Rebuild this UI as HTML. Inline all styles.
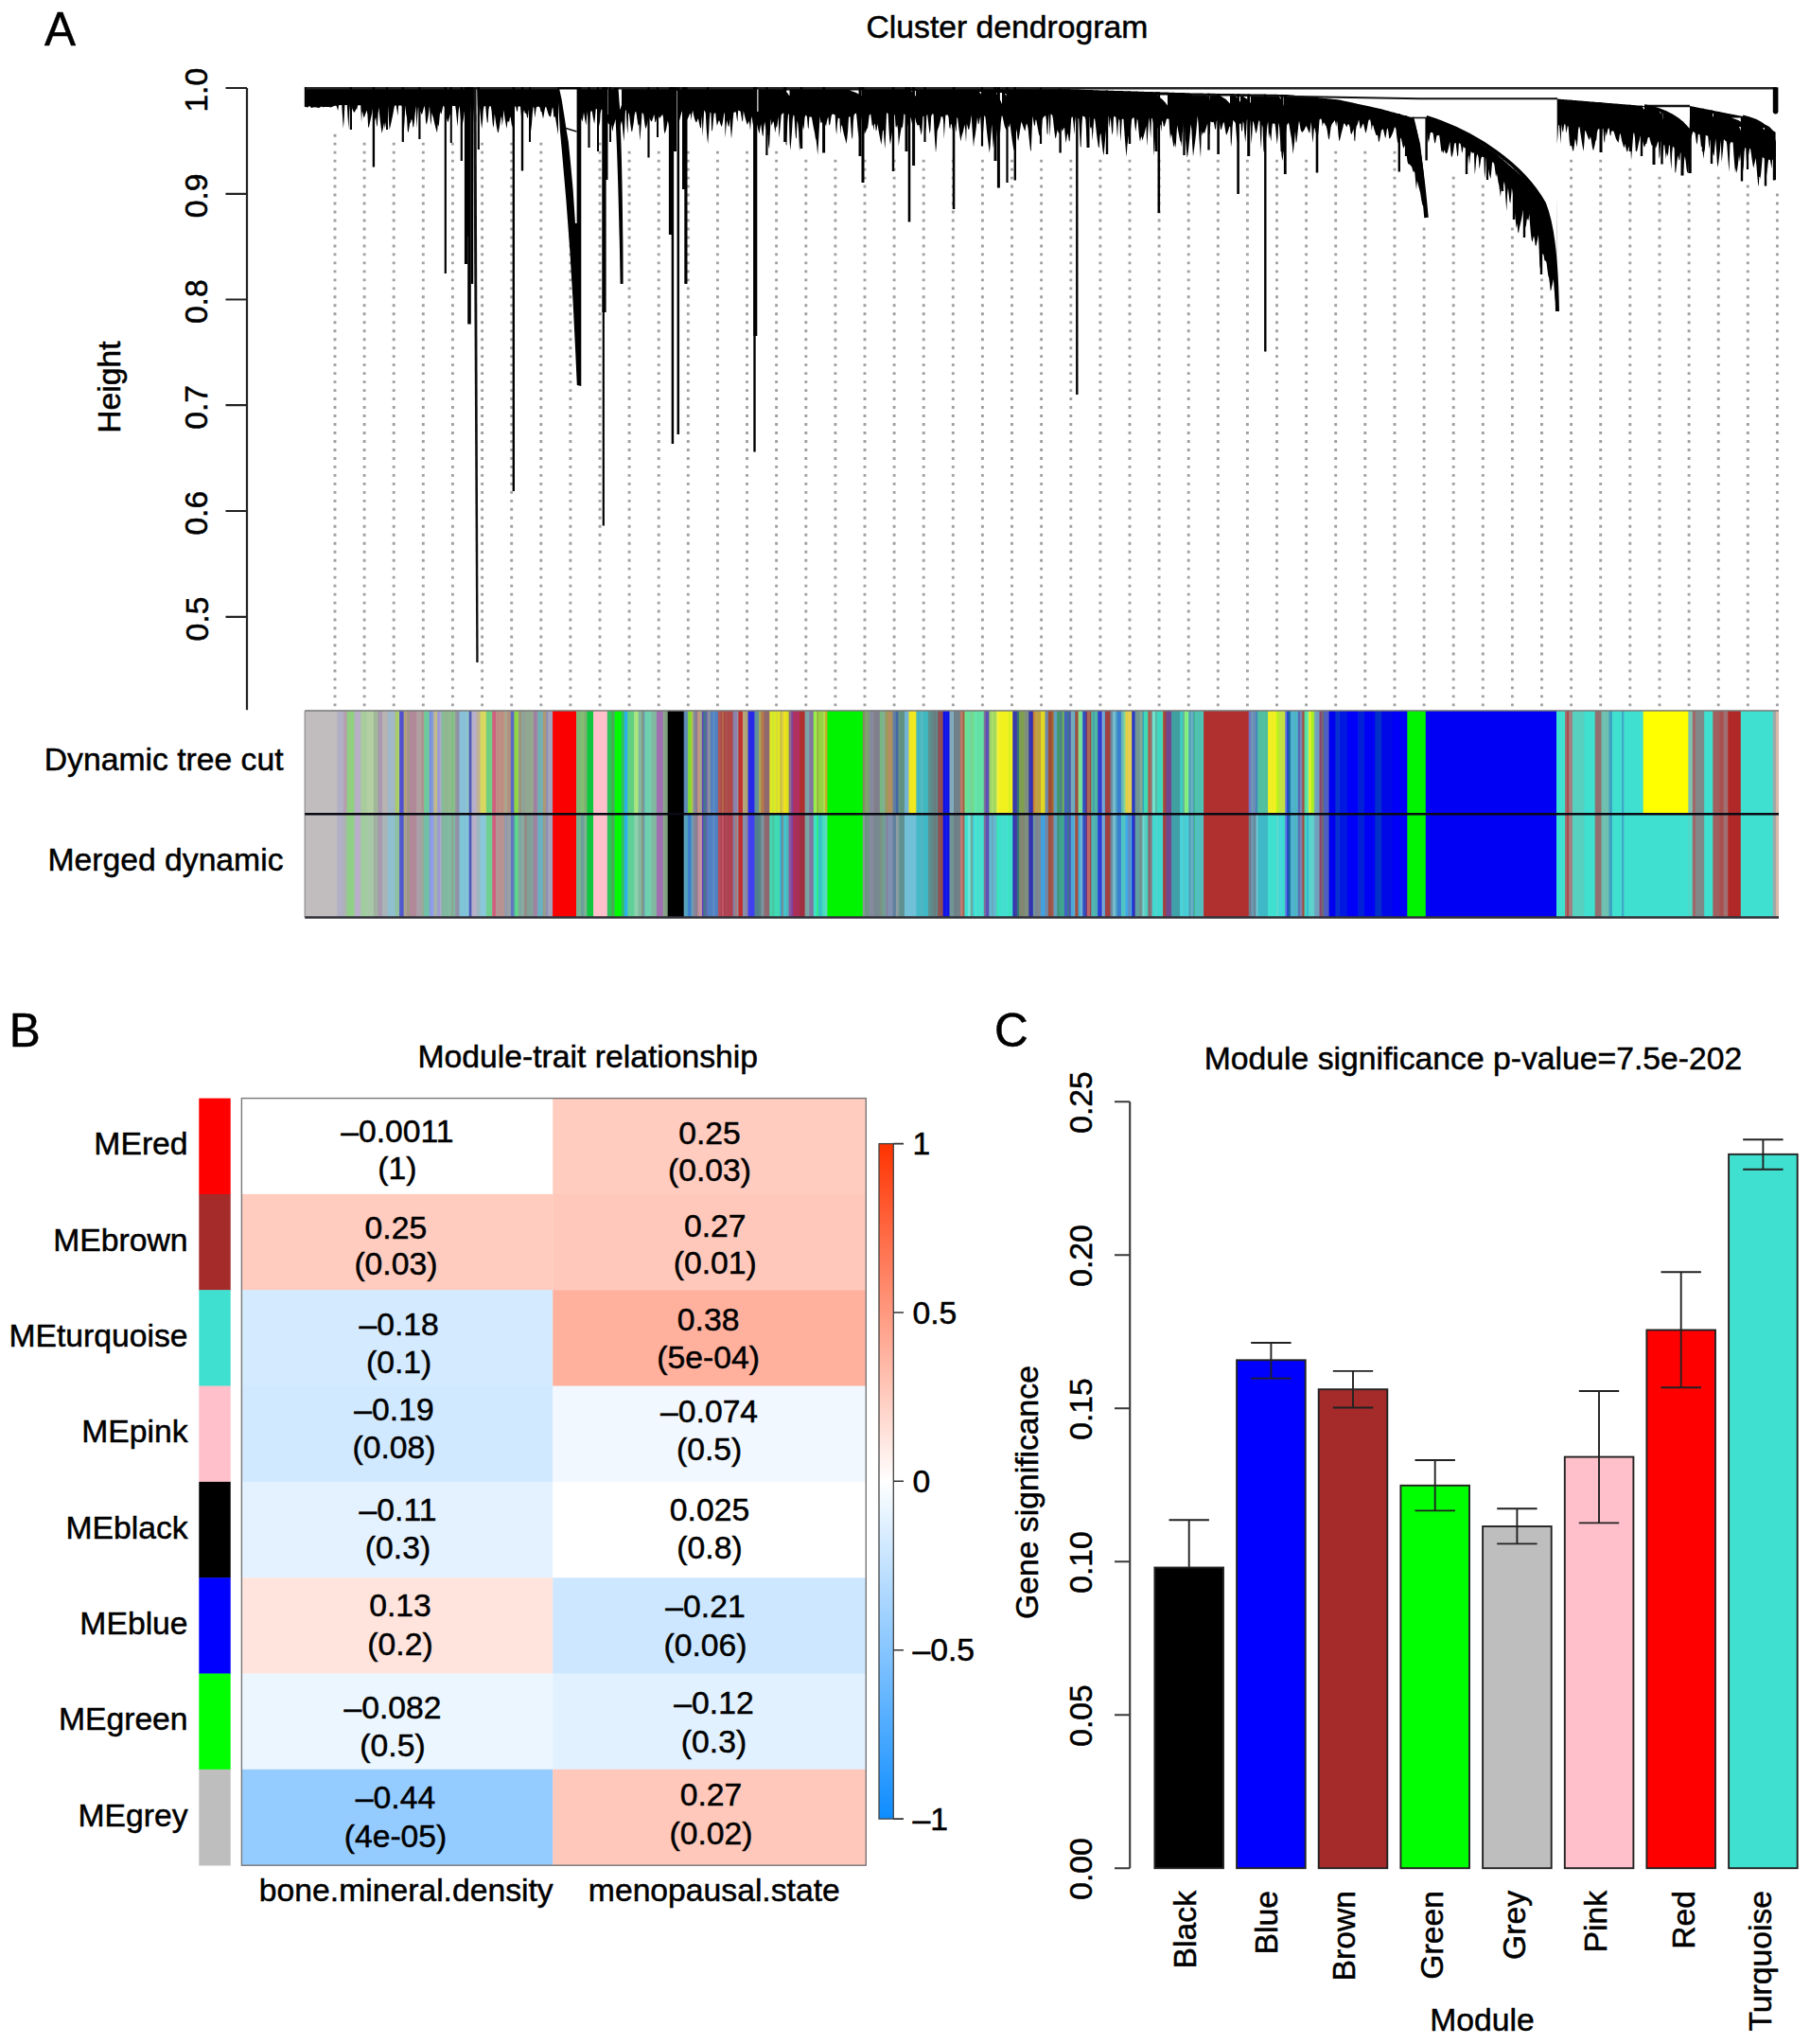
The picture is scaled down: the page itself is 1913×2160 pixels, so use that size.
<!DOCTYPE html>
<html lang="en"><head><meta charset="utf-8"><title>WGCNA figure</title>
<style>html,body{margin:0;padding:0;background:#fff;overflow:hidden}svg{display:block}text{font-family:'Liberation Sans', Arial, Helvetica, sans-serif;fill:#000;stroke:#000;stroke-width:0.5px}</style>
</head><body>
<svg width="1913" height="2160" viewBox="0 0 1913 2160">
<rect width="1913" height="2160" fill="#fff"/>
<g id="panelA">
<text x="47" y="48" font-size="49.5" text-anchor="start">A</text>
<text x="1064.4" y="40.4" font-size="33.7" text-anchor="middle">Cluster dendrogram</text>
<path d="M261 93.0V750.2" stroke="#222" stroke-width="2.2" fill="none"/>
<text x="219.5" y="95.2" font-size="33.7" text-anchor="middle" transform="rotate(-90 219.5 95.2)">1.0</text>
<text x="219.5" y="206.9" font-size="33.7" text-anchor="middle" transform="rotate(-90 219.5 206.9)">0.9</text>
<text x="219.5" y="318.7" font-size="33.7" text-anchor="middle" transform="rotate(-90 219.5 318.7)">0.8</text>
<text x="219.5" y="430.4" font-size="33.7" text-anchor="middle" transform="rotate(-90 219.5 430.4)">0.7</text>
<text x="219.5" y="542.2" font-size="33.7" text-anchor="middle" transform="rotate(-90 219.5 542.2)">0.6</text>
<text x="219.5" y="654" font-size="33.7" text-anchor="middle" transform="rotate(-90 219.5 654)">0.5</text>
<path d="M238.5 93H261M238.5 204.8H261M238.5 316.5H261M238.5 428.2H261M238.5 540H261M238.5 651.8H261" stroke="#222" stroke-width="2.2" fill="none"/>
<text x="127.3" y="409" font-size="33.7" text-anchor="middle" transform="rotate(-90 127.3 409)">Height</text>
<path d="M354 141.74V750M385.1 150.72V750M416.2 150.72V750M447.3 150.72V750M478.4 150.72V750M509.6 150.72V750M540.7 150.72V750M571.8 150.72V750M602.9 150.72V750M634 150.72V750M665.1 159.70V750M696.2 159.70V750M727.3 159.70V750M758.4 159.70V750M789.5 159.70V750M820.6 159.70V750M851.8 168.68V750M882.9 168.68V750M914 168.68V750M945.1 168.68V750M976.2 168.68V750M1007.3 168.68V750M1038.4 168.68V750M1069.5 168.68V750M1100.6 168.68V750M1131.8 168.68V750M1162.9 168.68V750M1194 168.68V750M1225.1 168.68V750M1256.2 168.68V750M1287.3 168.68V750M1318.4 168.68V750M1349.5 168.68V750M1380.6 168.68V750M1411.7 159.70V750M1442.8 159.70V750M1474 159.70V750M1505.1 240.52V750M1536.2 186.64V750M1567.3 195.62V750M1598.4 240.52V750M1629.5 294.40V750M1660.6 168.68V750M1691.7 168.68V750M1722.8 177.66V750M1754 186.64V750M1785.1 195.62V750M1816.2 186.64V750M1847.3 195.62V750M1878.4 204.60V750" stroke="#a0a0a0" stroke-width="2.9" stroke-dasharray="2.9 6.08" fill="none"/>
<path d="M322 92 322.8 92 323.6 92 324.4 92 325.2 92 326 92 326.8 92 327.6 92 328.4 92 329.2 92 330 92 330.8 92 331.6 92 332.4 92 333.2 92 334 92 334.8 92 335.6 92 336.4 92 337.2 92 338 92 338.8 92 339.6 92 340.4 92 341.2 92 342 92 342.8 92 343.6 92 344.4 92 345.2 92 346 92 346.8 92 347.6 92 348.4 92 349.2 92 350 92 350.8 92 351.6 92 352.4 92 353.2 92 354 92 354.8 92 355.6 92 356.4 92 357.2 92 358 92 358.8 92 359.6 92 360.4 92 361.2 92 362 92 362.8 92 363.6 92 364.4 92 365.2 92 366 92 366.8 92 367.6 92 368.4 92 369.2 92 370 92 370.8 92 371.6 92 372.4 92 373.2 92 374 92 374.8 92 375.6 92 376.4 92 377.2 92 378 92 378.8 92 379.6 92 380.4 92 381.2 92 382 92 382.8 92 383.6 92 384.4 92 385.2 92 386 92 386.8 92 387.6 92 388.4 92 389.2 92 390 92 390.8 92 391.6 92 392.4 92 393.2 92 394 92 394.8 92 395.6 92 396.4 92 397.2 92 398 92 398.8 92 399.6 92 400.4 92 401.2 92 402 92 402.8 92 403.6 92 404.4 92 405.2 92 406 92 406.8 92 407.6 92 408.4 92 409.2 92 410 92 410.8 92 411.6 92 412.4 92 413.2 92 414 92 414.8 92 415.6 92 416.4 92 417.2 92 418 92 418.8 92 419.6 92 420.4 92 421.2 92 422 92 422.8 92 423.6 92 424.4 92 425.2 92 426 92 426.8 92 427.6 92 428.4 92 429.2 92 430 92 430.8 92 431.6 92 432.4 92 433.2 92 434 92 434.8 92 435.6 92 436.4 92 437.2 92 438 92 438.8 92 439.6 92 440.4 92 441.2 92 442 92 442.8 92 443.6 92 444.4 92 445.2 92 446 92 446.8 92 447.6 92 448.4 92 449.2 92 450 92 450.8 92 451.6 92 452.4 92 453.2 92 454 92 454.8 92 455.6 92 456.4 92 457.2 92 458 92 458.8 92 459.6 92 460.4 92 461.2 92 462 92 462.8 92 463.6 92 464.4 92 465.2 92 466 92 466.8 92 467.6 92 468.4 92 469.2 92 470 92 470.8 92 471.6 92 472.4 92 473.2 92 474 92 474.8 92 475.6 92 476.4 92 477.2 92 478 92 478.8 92 479.6 92 480.4 92 481.2 92 482 92 482.8 92 483.6 92 484.4 92 485.2 92 486 92 486.8 92 487.6 92 488.4 92 489.2 92 490 92 490.8 92 491.6 92 492.4 92 493.2 92 494 92 494.8 92 495.6 92 496.4 92 497.2 92 498 92 498.8 92 499.6 92 500.4 92 501.2 92 502 92 502.8 92 503.6 92 504.4 92 505.2 92 506 92 506.8 92 507.6 92 508.4 92 509.2 92 510 92 510.8 92 511.6 92 512.4 92 513.2 92 514 92 514.8 92 515.6 92 516.4 92 517.2 92 518 92 518.8 92 519.6 92 520.4 92 521.2 92 522 92 522.8 92 523.6 92 524.4 92 525.2 92 526 92 526.8 92 527.6 92 528.4 92 529.2 92 530 92 530.8 92 531.6 92 532.4 92 533.2 92 534 92 534.8 92 535.6 92 536.4 92 537.2 92 538 92 538.8 92 539.6 92 540.4 92 541.2 92 542 92 542.8 92 543.6 92 544.4 92 545.2 92 546 92 546.8 92 547.6 92 548.4 92 549.2 92 550 92 550.8 92 551.6 92 552.4 92 553.2 92 554 92 554.8 92 555.6 92 556.4 92 557.2 92 558 92 558.8 92 559.6 92 560.4 92 561.2 92 562 92 562.8 92 563.6 92 564.4 92 565.2 92 566 92 566.8 92 567.6 92 568.4 92 569.2 92 570 92 570.8 92 571.6 92 572.4 92 573.2 92 574 92 574.8 92 575.6 92 576.4 92 577.2 92 578 92 578.8 92 579.6 92 580.4 92 581.2 92 582 92 582.8 92 583.6 92 584.4 92 585.2 92 586 92 586.8 92 587.6 92 588.4 92 589.2 92 590 92 590 92 L590 142.5 590 142.5 589.2 137.8 588.4 132.8 587.6 127.9 586.8 122.7 586 124.6 585.2 122.6 584.4 113.6 583.6 114.8 582.8 119.5 582 123.6 581.2 123.3 580.4 122.4 579.6 120.7 578.8 118.2 578 115.5 577.2 112.9 576.4 112.9 575.6 116.6 574.8 121.6 574 125.6 573.2 121.5 572.4 118.1 571.6 117.9 570.8 114.4 570 112.8 569.2 112.8 568.4 112.8 567.6 112.8 566.8 113.9 566 119.4 565.2 124.5 564.4 113.9 563.6 112.8 562.8 120.1 562 130.3 561.2 139.2 560.4 112.7 559.6 112.7 558.8 116.6 558 123.7 557.2 125.1 556.4 120.4 555.6 119.5 554.8 119.8 554 116.1 553.2 118.7 552.4 122.2 551.6 130.8 550.8 120.9 550 112.6 549.2 112.6 548.4 112.6 547.6 112.6 546.8 118.5 546 116.7 545.2 112.6 544.4 112.6 543.6 113.5 542.8 123.5 542 131.5 541.2 134.7 540.4 129.3 539.6 123.2 538.8 125.1 538 129.5 537.2 128.1 536.4 128.3 535.6 136.1 534.8 132.1 534 127.8 533.2 122.4 532.4 116.3 531.6 126.2 530.8 133.2 530 122.7 529.2 125.4 528.4 130.8 527.6 135.6 526.8 140 526 140 525.2 135.8 524.4 131.4 523.6 126.3 522.8 120.3 522 131.7 521.2 134.9 520.4 127.4 519.6 117.6 518.8 112.4 518 112.3 517.2 112.3 516.4 116 515.6 130.3 514.8 128.8 514 121.6 513.2 112.3 512.4 112.3 511.6 112.3 510.8 116.3 510 129 509.2 136.2 508.4 129.1 507.6 120.5 506.8 112.2 506 112.2 505.2 112.2 504.4 119.2 503.6 129.8 502.8 112.2 502 112.2 501.2 112.2 500.4 120.4 499.6 139.7 498.8 134.5 498 120.7 497.2 112.2 496.4 112.1 495.6 112.1 494.8 122.2 494 127.2 493.2 121.3 492.4 113.4 491.6 113.2 490.8 118.4 490 124.7 489.2 129.3 488.4 133.4 487.6 131.9 486.8 124.5 486 115.8 485.2 112 484.4 121 483.6 134 482.8 126.3 482 117.5 481.2 112 480.4 112 479.6 112 478.8 112 478 112 477.2 122 476.4 117.9 475.6 121.4 474.8 124.6 474 127.7 473.2 129.2 472.4 126.6 471.6 123.3 470.8 119 470 114.3 469.2 111.9 468.4 111.9 467.6 115.2 466.8 119.6 466 120.8 465.2 117.8 464.4 126.3 463.6 134.1 462.8 130.9 462 140.5 461.2 137.7 460.4 134.9 459.6 131.7 458.8 128.2 458 124.6 457.2 121.9 456.4 118.9 455.6 132.5 454.8 126.8 454 111.9 453.2 118.4 452.4 124 451.6 128.5 450.8 132 450 128.4 449.2 115.8 448.4 111.7 447.6 115.3 446.8 118.3 446 121 445.2 120 444.4 118.3 443.6 116.6 442.8 114.8 442 112.9 441.2 122.4 440.4 136 439.6 111.7 438.8 119.6 438 128 437.2 134.1 436.4 134.4 435.6 126.8 434.8 126 434 129.4 433.2 130.3 432.4 135.6 431.6 140.2 430.8 138.3 430 124.3 429.2 120.2 428.4 111.6 427.6 127 426.8 139.7 426 128.2 425.2 113.7 424.4 111.5 423.6 111.5 422.8 111.5 422 111.5 421.2 111.5 420.4 122.5 419.6 116.5 418.8 111.5 418 111.5 417.2 111.5 416.4 114.4 415.6 119.2 414.8 123.2 414 127 413.2 130.7 412.4 134.2 411.6 137.3 410.8 125.3 410 111.4 409.2 119 408.4 125.5 407.6 131.2 406.8 136.1 406 129.7 405.2 133.8 404.4 137.6 403.6 140.9 402.8 135.2 402 129.1 401.2 122.1 400.4 113.4 399.6 120.7 398.8 134.2 398 131.7 397.2 123.4 396.4 127.8 395.6 120.7 394.8 111.3 394 114.6 393.2 119.2 392.4 123.1 391.6 126.8 390.8 130.5 390 134 389.2 134.9 388.4 121.1 387.6 116.5 386.8 118.9 386 121 385.2 123.5 384.4 124.3 383.6 120.2 382.8 117.5 382 129.5 381.2 111.2 380.4 111.2 379.6 111.2 378.8 111.2 378 111.6 377.2 115.7 376.4 115.1 375.6 116.9 374.8 118.6 374 118.7 373.2 117.1 372.4 115.2 371.6 112.7 370.8 111.1 370 111.1 369.2 118.1 368.4 136.5 367.6 124.2 366.8 111.1 366 111.1 365.2 111 364.4 111 363.6 127.4 362.8 135.7 362 123.3 361.2 111 360.4 111 359.6 111.1 358.8 111.2 358 111.3 357.2 117.1 356.4 114.4 355.6 111.9 354.8 111.7 354 111.8 353.2 111.9 352.4 112.3 351.6 112.8 350.8 113.1 350 113.2 349.2 113.5 348.4 113.2 347.6 113.1 346.8 113.1 346 113.1 345.2 113.1 344.4 113 343.6 112.9 342.8 112.9 342 113.1 341.2 113.5 340.4 112.8 339.6 112.8 338.8 112.9 338 113.5 337.2 113.9 336.4 114 335.6 113.8 334.8 113.6 334 113.5 333.2 113.2 332.4 113.2 331.6 113.4 330.8 113.6 330 113.8 329.2 114 328.4 113.5 327.6 112.3 326.8 112.2 326 112.7 325.2 113.4 324.4 113.4 323.6 113 322.8 112.6 322 112.2Z" fill="#000"/>
<path d="M613 92 613.8 92 614.6 92 615.4 92 616.2 92 617 92 617.8 92 618.6 92 619.4 92 620.2 92 621 92 621.8 92 622.6 92 623.4 92 624.2 92 625 92 625.8 92 626.6 92 627.4 92 628.2 92 629 92 629.8 92 630.6 92 631.4 92 632.2 92 633 92 633.8 92 634.6 92 635.4 92 636.2 92 637 92 637.8 92 638.6 92 639.4 92 640.2 92 641 92 641.8 92 642.6 92 643.4 92 644.2 92 645 92 645.8 92 646.6 92 647.4 92 648.2 92 649 92 649.8 92 650.6 92 651.4 92 652.2 92 653 92 653.8 92 654.6 92 655.4 92 656.2 92 657 92 657.8 92 658.6 92 659.4 92 660.2 92 661 92 661.8 92 662.6 92 663.4 92 664.2 92 665 92 665.8 92 666.6 92 667.4 92 668.2 92 669 92 669.8 92 670.6 92 671.4 92 672.2 92 673 92 673.8 92 674.6 92 675.4 92 676.2 92 677 92 677.8 92 678.6 92 679.4 92 680.2 92 681 92 681.8 92 682.6 92 683.4 92 684.2 92 685 92 685.8 92 686.6 92 687.4 92 688.2 92 689 92 689.8 92 690.6 92 691.4 92 692.2 92 693 92 693.8 92 694.6 92 695.4 92 696.2 92 697 92 697.8 92 698.6 92 699.4 92 700.2 92 701 92 701.8 92 702.6 92 703.4 92 704.2 92 705 92 705.8 92 706.6 92 707.4 92 708.2 92 709 92 709.8 92 710.6 92 711.4 92 712.2 92 713 92 713.8 92 714.6 92 715.4 92 716.2 92 717 92 717.8 92 718.6 92 719.4 92 720.2 92 721 92 721.8 92 722.6 92 723.4 92 724.2 92 725 92 725.8 92 726.6 92 727.4 92 728.2 92 729 92 729.8 92 730.6 92 731.4 92 732.2 92 733 92 733.8 92 734.6 92 735.4 92 736.2 92 737 92 737.8 92 738.6 92 739.4 92 740.2 92 741 92 741.8 92 742.6 92 743.4 92 744.2 92 745 92 745.8 92 746.6 92 747.4 92 748.2 92 749 92 749.8 92 750.6 92 751.4 92 752.2 92 753 92 753.8 92 754.6 92 755.4 92 756.2 92 757 92 757.8 92 758.6 92 759.4 92 760.2 92 761 92 761.8 92 762.6 92 763.4 92 764.2 92 765 92 765.8 92 766.6 92 767.4 92 768.2 92 769 92 769.8 92 770.6 92 771.4 92 772.2 92 773 92 773.8 92 774.6 92 775.4 92 776.2 92 777 92 777.8 92 778.6 92 779.4 92 780.2 92 781 92 781.8 92 782.6 92 783.4 92 784.2 92 785 92 785.8 92 786.6 92 787.4 92 788.2 92 789 92 789.8 92 790.6 92 791.4 92 792.2 92 793 92 793.8 92 794.6 92 795.4 92 796.2 92 797 92 797.8 92 798.6 92 799.4 92 800.2 92 801 92 801.8 92 802.6 92 803.4 92 804.2 92 805 92 805.8 92 806.6 92 807.4 92 808.2 92 809 92 809.8 92 810.6 92 811.4 92 812.2 92 813 92 813.8 92 814.6 92 815.4 92 816.2 92 817 92 817.8 92 818.6 92 819.4 92 820.2 92 821 92 821.8 92 822.6 92 823.4 92 824.2 92 825 92 825.8 92 826.6 92 827.4 92 828.2 92 829 92 829.8 92 830.6 92 831.4 92 832.2 92 833 92 833.8 92 834.6 92 835.4 92 836.2 92 837 92 837.8 92 838.6 92 839.4 92 840.2 92 841 92 841.8 92 842.6 92 843.4 92 844.2 92 845 92 845.8 92 846.6 92 847.4 92 848.2 92 849 92 849.8 92 850.6 92 851.4 92 852.2 92 853 92 853.8 92 854.6 92 855.4 92 856.2 92 857 92 857.8 92 858.6 92 859.4 92 860.2 92 861 92 861.8 92 862.6 92 863.4 92 864.2 92 865 92 865.8 92 866.6 92 867.4 92 868.2 92 869 92 869.8 92 870.6 92 871.4 92 872.2 92 873 92 873.8 92 874.6 92 875.4 92 876.2 92 877 92 877.8 92 878.6 92 879.4 92 880.2 92 881 92 881.8 92 882.6 92 883.4 92 884.2 92 885 92 885.8 92 886.6 92 887.4 92 888.2 92 889 92 889.8 92 890.6 92 891.4 92 892.2 92 893 92 893.8 92 894.6 92 895.4 92 896.2 92 897 92 897.8 92 898.6 92 899.4 92 900.2 92 901 92 901.8 92 902.6 92 903.4 92 904.2 92 905 92 905.8 92 906.6 92 907.4 92 908.2 92 909 92 909.8 92 910.6 92 911.4 92 912.2 92 913 92 913.8 92 914.6 92 915.4 92 916.2 92 917 92 917.8 92 918.6 92 919.4 92 920.2 92 921 92 921.8 92 922.6 92 923.4 92 924.2 92 925 92 925.8 92 926.6 92 927.4 92 928.2 92 929 92 929.8 92 930.6 92 931.4 92 932.2 92 933 92 933.8 92 934.6 92 935.4 92 936.2 92 937 92 937.8 92 938.6 92 939.4 92 940.2 92 941 92 941.8 92 942.6 92 943.4 92 944.2 92 945 92 945.8 92 946.6 92 947.4 92 948.2 92 949 92 949.8 92 950.6 92 951.4 92 952.2 92 953 92 953.8 92 954.6 92 955.4 92 956.2 92 957 92 957.8 92 958.6 92 959.4 92 960.2 92 961 92 961.8 92 962.6 92 963.4 92 964.2 92 965 92 965.8 92 966.6 92 967.4 92 968.2 92 969 92 969.8 92 970.6 92 971.4 92 972.2 92 973 92 973.8 92 974.6 92 975.4 92 976.2 92 977 92 977.8 92 978.6 92 979.4 92 980.2 92 981 92 981.8 92 982.6 92 983.4 92 984.2 92 985 92 985.8 92 986.6 92 987.4 92 988.2 92 989 92 989.8 92 990.6 92 991.4 92 992.2 92 993 92 993.8 92 994.6 92 995.4 92 996.2 92 997 92 997.8 92 998.6 92 999.4 92 1000.2 92 1001 92 1001.8 92 1002.6 92 1003.4 92 1004.2 92 1005 92 1005.8 92 1006.6 92 1007.4 92 1008.2 92 1009 92 1009.8 92 1010.6 92 1011.4 92 1012.2 92 1013 92 1013.8 92 1014.6 92 1015.4 92 1016.2 92 1017 92 1017.8 92 1018.6 92 1019.4 92 1020.2 92 1021 92 1021.8 92 1022.6 92 1023.4 92 1024.2 92 1025 92 1025.8 92 1026.6 92 1027.4 92 1028.2 92 1029 92 1029.8 92 1030.6 92 1031.4 92 1032.2 92 1033 92 1033.8 92 1034.6 92 1035.4 92 1036.2 92 1037 92 1037.8 92 1038.6 92 1039.4 92 1040.2 92 1041 92 1041.8 92 1042.6 92 1043.4 92 1044.2 92 1045 92 1045.8 92 1046.6 92 1047.4 92 1048.2 92 1049 92 1049.8 92 1050.6 92 1051.4 92 1052.2 92 1053 92 1053.8 92 1054.6 92 1055.4 92 1056.2 92 1057 92 1057.8 92 1058.6 92 1059.4 92 1060.2 92 1061 92 1061.8 92 1062.6 92 1063.4 92 1064.2 92 1065 92 1065.8 92 1066.6 92 1067.4 92 1068.2 92 1069 92 1069.8 92 1070.6 92 1071.4 92 1072.2 92 1073 92 1073.8 92 1074.6 92 1075.4 92 1076.2 92 1077 92 1077.8 92 1078.6 92 1079.4 92 1080.2 92 1081 92 1081.8 92 1082.6 92 1083.4 92 1084.2 92 1085 92 1085.8 92.1 1086.6 92.1 1087.4 92.2 1088.2 92.2 1089 92.2 1089.8 92.3 1090.6 92.3 1091.4 92.3 1092.2 92.4 1093 92.4 1093.8 92.4 1094.6 92.5 1095.4 92.5 1096.2 92.6 1097 92.6 1097.8 92.6 1098.6 92.7 1099.4 92.7 1100.2 92.7 1101 92.8 1101.8 92.8 1102.6 92.8 1103.4 92.9 1104.2 92.9 1105 93 1105.8 93 1106.6 93 1107.4 93.1 1108.2 93.1 1109 93.1 1109.8 93.2 1110.6 93.2 1111.4 93.2 1112.2 93.3 1113 93.3 1113.8 93.4 1114.6 93.4 1115.4 93.4 1116.2 93.5 1117 93.5 1117.8 93.5 1118.6 93.6 1119.4 93.6 1120.2 93.6 1121 93.7 1121.8 93.7 1122.6 93.8 1123.4 93.8 1124.2 93.8 1125 93.9 1125.8 93.9 1126.6 93.9 1127.4 94 1128.2 94 1129 94 1129.8 94.1 1130.6 94.1 1131.4 94.2 1132.2 94.2 1133 94.2 1133.8 94.3 1134.6 94.3 1135.4 94.3 1136.2 94.4 1137 94.4 1137.8 94.4 1138.6 94.5 1139.4 94.5 1140.2 94.6 1141 94.6 1141.8 94.6 1142.6 94.7 1143.4 94.7 1144.2 94.7 1145 94.8 1145.8 94.8 1146.6 94.8 1147.4 94.9 1148.2 94.9 1149 95 1149.8 95 1150.6 95 1151.4 95 1152.2 95.1 1153 95.1 1153.8 95.1 1154.6 95.1 1155.4 95.2 1156.2 95.2 1157 95.2 1157.8 95.2 1158.6 95.3 1159.4 95.3 1160.2 95.3 1161 95.3 1161.8 95.4 1162.6 95.4 1163.4 95.4 1164.2 95.4 1165 95.5 1165.8 95.5 1166.6 95.5 1167.4 95.5 1168.2 95.6 1169 95.6 1169.8 95.6 1170.6 95.6 1171.4 95.7 1172.2 95.7 1173 95.7 1173.8 95.7 1174.6 95.8 1175.4 95.8 1176.2 95.8 1177 95.8 1177.8 95.9 1178.6 95.9 1179.4 95.9 1180.2 95.9 1181 96 1181.8 96 1182.6 96 1183.4 96 1184.2 96.1 1185 96.1 1185.8 96.1 1186.6 96.1 1187.4 96.2 1188.2 96.2 1189 96.2 1189.8 96.2 1190.6 96.3 1191.4 96.3 1192.2 96.3 1193 96.3 1193.8 96.4 1194.6 96.4 1195.4 96.4 1196.2 96.4 1197 96.5 1197.8 96.5 1198.6 96.5 1199.4 96.5 1200.2 96.6 1201 96.6 1201.8 96.6 1202.6 96.6 1203.4 96.7 1204.2 96.7 1205 96.7 1205.8 96.7 1206.6 96.8 1207.4 96.8 1208.2 96.8 1209 96.8 1209.8 96.9 1210.6 96.9 1211.4 96.9 1212.2 96.9 1213 97 1213.8 97 1214.6 97 1215.4 97 1216.2 97.1 1217 97.1 1217.8 97.1 1218.6 97.1 1219.4 97.2 1220.2 97.2 1221 97.2 1221.8 97.2 1222.6 97.3 1223.4 97.3 1224.2 97.3 1225 97.3 1225.8 97.4 1226.6 97.4 1227.4 97.4 1228.2 97.4 1229 97.5 1229.8 97.5 1230.6 97.5 1231.4 97.5 1232.2 97.6 1233 97.6 1233.8 97.6 1234.6 97.6 1235.4 97.7 1236.2 97.7 1237 97.7 1237.8 97.7 1238.6 97.8 1239.4 97.8 1240.2 97.8 1241 97.8 1241.8 97.9 1242.6 97.9 1243.4 97.9 1244.2 97.9 1245 98 1245.8 98 1246.6 98 1247.4 98 1248.2 98.1 1249 98.1 1249.8 98.1 1250.6 98.1 1251.4 98.2 1252.2 98.2 1253 98.2 1253.8 98.2 1254.6 98.3 1255.4 98.3 1256.2 98.3 1257 98.3 1257.8 98.4 1258.6 98.4 1259.4 98.4 1260.2 98.4 1261 98.5 1261.8 98.5 1262.6 98.5 1263.4 98.5 1264.2 98.5 1265 98.5 1265.8 98.6 1266.6 98.6 1267.4 98.6 1268.2 98.6 1269 98.6 1269.8 98.6 1270.6 98.6 1271.4 98.6 1272.2 98.7 1273 98.7 1273.8 98.7 1274.6 98.7 1275.4 98.7 1276.2 98.7 1277 98.7 1277.8 98.7 1278.6 98.8 1279.4 98.8 1280.2 98.8 1281 98.8 1281.8 98.8 1282.6 98.8 1283.4 98.8 1284.2 98.8 1285 98.9 1285.8 98.9 1286.6 98.9 1287.4 98.9 1288.2 98.9 1289 98.9 1289.8 98.9 1290.6 98.9 1291.4 98.9 1292.2 99 1293 99 1293.8 99 1294.6 99 1295.4 99 1296.2 99 1297 99 1297.8 99 1298.6 99.1 1299.4 99.1 1300.2 99.1 1301 99.1 1301.8 99.1 1302.6 99.1 1303.4 99.1 1304.2 99.1 1305 99.2 1305.8 99.2 1306.6 99.2 1307.4 99.2 1308.2 99.2 1309 99.2 1309.8 99.2 1310.6 99.2 1311.4 99.3 1312.2 99.3 1313 99.3 1313.8 99.3 1314.6 99.3 1315.4 99.3 1316.2 99.3 1317 99.3 1317.8 99.4 1318.6 99.4 1319.4 99.4 1320.2 99.4 1321 99.4 1321.8 99.4 1322.6 99.4 1323.4 99.4 1324.2 99.5 1325 99.5 1325.8 99.5 1326.6 99.5 1327.4 99.5 1328.2 99.5 1329 99.5 1329.8 99.5 1330.6 99.5 1331.4 99.6 1332.2 99.6 1333 99.6 1333.8 99.6 1334.6 99.6 1335.4 99.6 1336.2 99.6 1337 99.6 1337.8 99.7 1338.6 99.7 1339.4 99.7 1340.2 99.7 1341 99.7 1341.8 99.7 1342.6 99.7 1343.4 99.7 1344.2 99.8 1345 99.8 1345.8 99.8 1346.6 99.8 1347.4 99.8 1348.2 99.8 1349 99.8 1349.8 99.8 1350.6 99.9 1351.4 99.9 1352.2 99.9 1353 99.9 1353.8 99.9 1354.6 99.9 1355.4 99.9 1356.2 99.9 1357 100 1357.8 100 1358.6 100 1359.4 100 1360.2 100 1361 100.1 1361.8 100.2 1362.6 100.3 1363.4 100.3 1364.2 100.4 1365 100.5 1365.8 100.6 1366.6 100.6 1367.4 100.7 1368.2 100.8 1369 100.9 1369.8 101 1370.6 101 1371.4 101.1 1372.2 101.2 1373 101.3 1373.8 101.4 1374.6 101.4 1375.4 101.5 1376.2 101.6 1377 101.7 1377.8 101.7 1378.6 101.8 1379.4 101.9 1380.2 102 1381 102.1 1381.8 102.1 1382.6 102.2 1383.4 102.3 1384.2 102.4 1385 102.5 1385.8 102.5 1386.6 102.6 1387.4 102.7 1388.2 102.8 1389 102.8 1389.8 102.9 1390.6 103 1391.4 103.1 1392.2 103.2 1393 103.2 1393.8 103.3 1394.6 103.4 1395.4 103.5 1396.2 103.6 1397 103.6 1397.8 103.7 1398.6 103.8 1399.4 103.9 1400.2 103.9 1401 104 1401.8 104.1 1402.6 104.2 1403.4 104.3 1404.2 104.3 1405 104.4 1405.8 104.5 1406.6 104.6 1407.4 104.7 1408.2 104.7 1409 104.8 1409.8 104.9 1410.6 105 1411.4 105 1412.2 105.1 1413 105.2 1413.8 105.3 1414.6 105.4 1415.4 105.5 1416.2 105.7 1417 105.8 1417.8 106 1418.6 106.2 1419.4 106.4 1420.2 106.5 1421 106.7 1421.8 106.9 1422.6 107.1 1423.4 107.2 1424.2 107.4 1425 107.6 1425.8 107.8 1426.6 107.9 1427.4 108.1 1428.2 108.3 1429 108.5 1429.8 108.6 1430.6 108.8 1431.4 109 1432.2 109.2 1433 109.3 1433.8 109.5 1434.6 109.7 1435.4 109.9 1436.2 110 1437 110.2 1437.8 110.4 1438.6 110.5 1439.4 110.7 1440.2 110.9 1441 111.1 1441.8 111.2 1442.6 111.4 1443.4 111.6 1444.2 111.8 1445 111.9 1445.8 112.1 1446.6 112.3 1447.4 112.5 1448.2 112.6 1449 112.8 1449.8 113 1450.6 113.2 1451.4 113.3 1452.2 113.5 1453 113.7 1453.8 113.9 1454.6 114 1455.4 114.2 1456.2 114.4 1457 114.6 1457.8 114.7 1458.6 114.9 1459.4 115.1 1460.2 115.3 1461 115.5 1461.8 115.8 1462.6 116 1463.4 116.2 1464.2 116.4 1465 116.6 1465.8 116.9 1466.6 117.1 1467.4 117.3 1468.2 117.5 1469 117.7 1469.8 117.9 1470.6 118.2 1471.4 118.4 1472.2 118.6 1473 118.8 1473.8 119 1474.6 119.3 1475.4 119.5 1476.2 119.7 1477 119.9 1477.8 120.1 1478.6 120.3 1479.4 120.6 1480.2 120.8 1481 121 1481.8 121.2 1482.6 121.4 1483.4 121.7 1484.2 121.9 1485 122.1 1485.8 122.3 1486.6 122.5 1487.4 122.7 1488.2 123 1489 123.2 1489.8 123.4 1490.6 123.6 1491.4 123.8 1492.2 124.5 1493 126.4 1493.8 128.3 1494.6 130.2 1495.4 132.2 1496.2 134.1 1497 136 1497.8 139.2 1498.6 142.4 1499.4 145.6 1500.2 148.8 1501 152 1501.8 158.9 1502.6 165.7 1503.4 172.6 1504.2 179.4 1505 187.9 1505.8 197.2 1506.6 206.6 1507.4 216 1507.5 170 L1507.5 179.8 1507.4 221.2 1506.6 223 1505.8 220.6 1505 218.1 1504.2 217.5 1503.4 216.7 1502.6 213 1501.8 208.2 1501 203.2 1500.2 200.2 1499.4 197.2 1498.6 194.1 1497.8 191 1497 200.5 1496.2 192.6 1495.4 183.3 1494.6 180.6 1493.8 182.2 1493 179.6 1492.2 176.5 1491.4 175.6 1490.6 174.6 1489.8 173.7 1489 173.4 1488.2 173.1 1487.4 169.9 1486.6 162.4 1485.8 153.9 1485 153.2 1484.2 155 1483.4 156.8 1482.6 154.4 1481.8 150.6 1481 147 1480.2 145.6 1479.4 147.7 1478.6 142.9 1477.8 151.5 1477 150.1 1476.2 144 1475.4 136.3 1474.6 134.6 1473.8 134.8 1473 137.7 1472.2 140 1471.4 141.9 1470.6 143.7 1469.8 145.2 1469 146.2 1468.2 146.5 1467.4 139.3 1466.6 135.2 1465.8 136.9 1465 142.5 1464.2 146.5 1463.4 143.1 1462.6 139.5 1461.8 135.7 1461 137.8 1460.2 136.7 1459.4 140.9 1458.6 145.4 1457.8 149.6 1457 150.1 1456.2 143.3 1455.4 142.8 1454.6 143.2 1453.8 140.9 1453 138.5 1452.2 135.9 1451.4 132.8 1450.6 131.9 1449.8 138.3 1449 131.1 1448.2 126.6 1447.4 126.6 1446.6 126.7 1445.8 130.2 1445 134.7 1444.2 138.6 1443.4 141 1442.6 137.8 1441.8 134.3 1441 130.5 1440.2 131.4 1439.4 133.3 1438.6 135.2 1437.8 136.2 1437 131.7 1436.2 126.6 1435.4 129 1434.6 132 1433.8 132.9 1433 137.6 1432.2 149.6 1431.4 148.4 1430.6 136.2 1429.8 138.4 1429 140.4 1428.2 142.3 1427.4 139.9 1426.6 134.1 1425.8 132.1 1425 131.1 1424.2 132.1 1423.4 134.5 1422.6 133.1 1421.8 131.6 1421 130.6 1420.2 130.8 1419.4 134.4 1418.6 137.5 1417.8 140.5 1417 144 1416.2 147.3 1415.4 149.4 1414.6 143 1413.8 132.8 1413 127.4 1412.2 134.1 1411.4 129.5 1410.6 127.1 1409.8 128.6 1409 129.5 1408.2 130.3 1407.4 132.1 1406.6 134.3 1405.8 140.8 1405 146.6 1404.2 147.4 1403.4 142.6 1402.6 137.3 1401.8 133.8 1401 132.5 1400.2 131 1399.4 129.4 1398.6 130 1397.8 133.8 1397 127.8 1396.2 125.3 1395.4 125.8 1394.6 126.6 1393.8 136.2 1393 143.5 1392.2 146.3 1391.4 143.3 1390.6 139.8 1389.8 136.7 1389 134.8 1388.2 143.6 1387.4 151.3 1386.6 140.9 1385.8 128.8 1385 135.3 1384.2 140.8 1383.4 139.8 1382.6 137.7 1381.8 135.7 1381 133.8 1380.2 133.2 1379.4 135.3 1378.6 136.9 1377.8 138.2 1377 139.1 1376.2 140 1375.4 138.8 1374.6 136.7 1373.8 131.9 1373 127.4 1372.2 133.4 1371.4 141.4 1370.6 148.9 1369.8 151.4 1369 138.7 1368.2 148.4 1367.4 156.1 1366.6 162.9 1365.8 153.5 1365 146.5 1364.2 142.2 1363.4 137.4 1362.6 132.2 1361.8 129.6 1361 130.9 1360.2 132 1359.4 136.6 1358.6 144.9 1357.8 152.4 1357 158.4 1356.2 164.2 1355.4 170 1354.6 164.8 1353.8 155.7 1353 146.3 1352.2 134.8 1351.4 129.6 1350.6 144.3 1349.8 152.7 1349 145.1 1348.2 136.1 1347.4 130.4 1346.6 130.7 1345.8 130.8 1345 130.2 1344.2 136.3 1343.4 149.7 1342.6 145 1341.8 140.2 1341 146.2 1340.2 128.6 1339.4 132.7 1338.6 140.7 1337.8 147.8 1337 155.2 1336.2 162.3 1335.4 158.4 1334.6 134.7 1333.8 131.5 1333 157.7 1332.2 147.4 1331.4 128.6 1330.6 127.1 1329.8 130.6 1329 134.9 1328.2 138.9 1327.4 141.2 1326.6 137.3 1325.8 133.2 1325 129.5 1324.2 127.8 1323.4 141.5 1322.6 152.6 1321.8 134.7 1321 126.2 1320.2 126.1 1319.4 126 1318.6 125.9 1317.8 127.1 1317 141.3 1316.2 150.4 1315.4 141.8 1314.6 131.3 1313.8 127.8 1313 139.1 1312.2 138.2 1311.4 130.2 1310.6 130.7 1309.8 131.1 1309 131.4 1308.2 142.6 1307.4 151.4 1306.6 140.6 1305.8 129.9 1305 128.9 1304.2 127.8 1303.4 126.9 1302.6 134.1 1301.8 150.1 1301 155.6 1300.2 134.2 1299.4 133.5 1298.6 136.4 1297.8 139 1297 141 1296.2 142.9 1295.4 139.7 1294.6 134.7 1293.8 129.4 1293 129.5 1292.2 132.3 1291.4 135 1290.6 137.4 1289.8 135.8 1289 129.9 1288.2 124.7 1287.4 125.8 1286.6 127.3 1285.8 128.3 1285 136.4 1284.2 136.4 1283.4 131.7 1282.6 128.7 1281.8 129.2 1281 129 1280.2 128.7 1279.4 128.6 1278.6 141.7 1277.8 142.6 1277 132 1276.2 130.5 1275.4 133.5 1274.6 136 1273.8 138.6 1273 141.5 1272.2 139.3 1271.4 140.3 1270.6 143.2 1269.8 138.3 1269 166.9 1268.2 156.9 1267.4 145.2 1266.6 131.6 1265.8 122.3 1265 131.1 1264.2 140.6 1263.4 147.6 1262.6 153.6 1261.8 159.4 1261 165.4 1260.2 153.5 1259.4 137 1258.6 131.2 1257.8 140.8 1257 149.2 1256.2 157 1255.4 163.7 1254.6 166.6 1253.8 157.3 1253 147.6 1252.2 136.3 1251.4 126.5 1250.6 134.1 1249.8 140.6 1249 155.5 1248.2 150.1 1247.4 149.3 1246.6 145.4 1245.8 141.3 1245 136.9 1244.2 132.2 1243.4 143.7 1242.6 156.8 1241.8 150.4 1241 155.6 1240.2 153.9 1239.4 148.9 1238.6 143.5 1237.8 141.6 1237 147 1236.2 138.2 1235.4 125.6 1234.6 125.7 1233.8 125.6 1233 125.4 1232.2 128.7 1231.4 131.4 1230.6 133.8 1229.8 133.6 1229 128.9 1228.2 127.2 1227.4 139.3 1226.6 132.3 1225.8 131.8 1225 136.1 1224.2 136.3 1223.4 135 1222.6 133.4 1221.8 132.8 1221 145.3 1220.2 155.5 1219.4 165 1218.6 130.5 1217.8 125.1 1217 125.2 1216.2 146.1 1215.4 135.9 1214.6 124.1 1213.8 131.6 1213 144 1212.2 154.8 1211.4 133 1210.6 136.7 1209.8 140 1209 143.1 1208.2 146.1 1207.4 148.4 1206.6 144.1 1205.8 145.5 1205 149.7 1204.2 145.3 1203.4 137.2 1202.6 127.6 1201.8 125.6 1201 134 1200.2 139.2 1199.4 132.8 1198.6 124.4 1197.8 124.3 1197 125.1 1196.2 126 1195.4 133.6 1194.6 143.1 1193.8 142.2 1193 143 1192.2 148 1191.4 153.9 1190.6 166 1189.8 157.8 1189 148 1188.2 137.1 1187.4 125.8 1186.6 125.8 1185.8 125.7 1185 139.8 1184.2 149.9 1183.4 127.3 1182.6 125.5 1181.8 131 1181 145.9 1180.2 133.7 1179.4 124.3 1178.6 123.3 1177.8 122.6 1177 124.5 1176.2 139.2 1175.4 142.9 1174.6 133.9 1173.8 124.1 1173 128.8 1172.2 135.4 1171.4 123.1 1170.6 123 1169.8 126.3 1169 137 1168.2 145.6 1167.4 154.9 1166.6 164.2 1165.8 161 1165 154.4 1164.2 147.6 1163.4 140.5 1162.6 143.2 1161.8 156 1161 155.7 1160.2 150.8 1159.4 144.8 1158.6 138.1 1157.8 130.7 1157 125.1 1156.2 126.1 1155.4 137.4 1154.6 148.8 1153.8 135.9 1153 133.7 1152.2 136.3 1151.4 123.8 1150.6 124.1 1149.8 134.1 1149 153.2 1148.2 141.3 1147.4 126.4 1146.6 123.5 1145.8 123.3 1145 122.9 1144.2 122.6 1143.4 132.4 1142.6 156 1141.8 154.6 1141 139.1 1140.2 125.5 1139.4 125 1138.6 124.3 1137.8 123.7 1137 123.3 1136.2 129.6 1135.4 142.8 1134.6 131.3 1133.8 123.9 1133 123.2 1132.2 125.2 1131.4 138.5 1130.6 149.5 1129.8 148.8 1129 143.5 1128.2 140.5 1127.4 146.4 1126.6 151.3 1125.8 144.3 1125 134.7 1124.2 135.7 1123.4 137.5 1122.6 139 1121.8 134.9 1121 136.7 1120.2 138.4 1119.4 141.5 1118.6 140.2 1117.8 136.9 1117 140.4 1116.2 144.9 1115.4 146.4 1114.6 140.6 1113.8 134.1 1113 126.1 1112.2 121.7 1111.4 121 1110.6 120.6 1109.8 144.8 1109 131.8 1108.2 120.1 1107.4 142.8 1106.6 140.7 1105.8 126.5 1105 121.7 1104.2 122.7 1103.4 123.5 1102.6 124.1 1101.8 126.4 1101 137 1100.2 138.5 1099.4 142 1098.6 143.7 1097.8 140.8 1097 136.4 1096.2 131.9 1095.4 127.5 1094.6 126.2 1093.8 133 1093 132.3 1092.2 127.8 1091.4 122.6 1090.6 138.9 1089.8 159.9 1089 158.4 1088.2 151.4 1087.4 143.9 1086.6 135.7 1085.8 132 1085 130.4 1084.2 133.8 1083.4 138.8 1082.6 136.9 1081.8 134.9 1081 132.7 1080.2 130.4 1079.4 128.5 1078.6 134.2 1077.8 139.4 1077 144.4 1076.2 149.3 1075.4 146.1 1074.6 136.3 1073.8 141.9 1073 150.1 1072.2 157.6 1071.4 158.8 1070.6 153.8 1069.8 148.4 1069 142.5 1068.2 136.2 1067.4 130.3 1066.6 134.7 1065.8 133.3 1065 131.6 1064.2 138.7 1063.4 136.8 1062.6 135.4 1061.8 133.4 1061 129.9 1060.2 125.9 1059.4 122.5 1058.6 122.7 1057.8 129.4 1057 141.3 1056.2 136.5 1055.4 141.7 1054.6 146.7 1053.8 143.9 1053 135.6 1052.2 131.4 1051.4 142.1 1050.6 150.9 1049.8 156.6 1049 143.7 1048.2 131.3 1047.4 143.6 1046.6 154.1 1045.8 161.7 1045 155.5 1044.2 149 1043.4 142.5 1042.6 135.3 1041.8 126.4 1041 121.9 1040.2 122.9 1039.4 136 1038.6 146.5 1037.8 152.2 1037 139.2 1036.2 123 1035.4 126.4 1034.6 131.6 1033.8 130.3 1033 123.7 1032.2 131.5 1031.4 137.8 1030.6 143.5 1029.8 147.5 1029 155.6 1028.2 145.4 1027.4 134 1026.6 121.2 1025.8 128.4 1025 133 1024.2 136.9 1023.4 136.7 1022.6 133.7 1021.8 130.5 1021 151 1020.2 136.8 1019.4 131.8 1018.6 135.9 1017.8 139.6 1017 142.1 1016.2 145 1015.4 149.6 1014.6 144.3 1013.8 138.5 1013 132.6 1012.2 125 1011.4 123.9 1010.6 140 1009.8 135.7 1009 130.4 1008.2 136 1007.4 140.5 1006.6 136 1005.8 131.4 1005 130.9 1004.2 136.5 1003.4 134.5 1002.6 124.3 1001.8 121.5 1001 121.4 1000.2 121.4 999.4 121.6 998.6 132.9 997.8 147.1 997 126.8 996.2 123.2 995.4 123.3 994.6 123.3 993.8 127.8 993 131 992.2 133.9 991.4 136.1 990.6 138.7 989.8 154.1 989 161.6 988.2 150.6 987.4 137.1 986.6 120.7 985.8 120.3 985 120.9 984.2 123 983.4 137.4 982.6 141.4 981.8 135.2 981 128.2 980.2 121.1 979.4 122.1 978.6 139.3 977.8 132.1 977 123.1 976.2 122.5 975.4 123.3 974.6 136.5 973.8 143.2 973 139.5 972.2 135.6 971.4 132 970.6 131.9 969.8 133.1 969 131.1 968.2 128.9 967.4 125.6 966.6 122.5 965.8 122.2 965 126.7 964.2 131.8 963.4 128.1 962.6 123.3 961.8 127.7 961 131.7 960.2 135.2 959.4 131.4 958.6 127.3 957.8 121.4 957 121.1 956.2 120.8 955.4 120.4 954.6 129.4 953.8 135.8 953 133.6 952.2 137.4 951.4 142.3 950.6 147.6 949.8 154.7 949 136.7 948.2 131.7 947.4 134.4 946.6 134 945.8 121.1 945 121.8 944.2 129.6 943.4 136.3 942.6 141.9 941.8 147.3 941 153.1 940.2 147.2 939.4 135.7 938.6 120.5 937.8 119.1 937 120.3 936.2 140.8 935.4 157.5 934.6 149.6 933.8 137.5 933 138 932.2 146.8 931.4 152.9 930.6 148.8 929.8 144.6 929 140.2 928.2 135.5 927.4 130.8 926.6 137.5 925.8 138.3 925 131.8 924.2 130.8 923.4 138 922.6 131.5 921.8 133.2 921 126.4 920.2 120.7 919.4 120.7 918.6 122.7 917.8 129.9 917 135.6 916.2 136 915.4 138.4 914.6 140 913.8 141.9 913 136.8 912.2 129.8 911.4 123.5 910.6 123.9 909.8 133.6 909 142 908.2 128.8 907.4 146.3 906.6 137.3 905.8 127.6 905 119.8 904.2 119.8 903.4 120.6 902.6 121.7 901.8 129.7 901 147.2 900.2 145.1 899.4 135.6 898.6 123.7 897.8 122.9 897 124.1 896.2 137.4 895.4 145.5 894.6 152.1 893.8 148.9 893 146 892.2 142.9 891.4 139.6 890.6 136.1 889.8 132.1 889 133.6 888.2 142.1 887.4 125.1 886.6 124.9 885.8 124.4 885 130.1 884.2 142.5 883.4 136.2 882.6 121.2 881.8 121.2 881 120.8 880.2 120.4 879.4 120.8 878.6 122.9 877.8 128.2 877 132 876.2 132.3 875.4 123.4 874.6 125.5 873.8 129.1 873 133.6 872.2 131.2 871.4 132.9 870.6 134.2 869.8 132.1 869 128.5 868.2 129.9 867.4 129.4 866.6 123.2 865.8 136.6 865 151.2 864.2 164 863.4 154.9 862.6 148.1 861.8 145.8 861 140.1 860.2 136.5 859.4 132.6 858.6 128 857.8 123.7 857 123.6 856.2 123.6 855.4 123.5 854.6 136.4 853.8 134.2 853 124.1 852.2 121.7 851.4 121.7 850.6 124.1 849.8 133.8 849 137.6 848.2 132.6 847.4 127.2 846.6 137.5 845.8 152.5 845 160.1 844.2 140.1 843.4 131.2 842.6 127.2 841.8 146.3 841 145.8 840.2 134.4 839.4 122.3 838.6 121.5 837.8 125.8 837 138.8 836.2 149.7 835.4 158.9 834.6 150.2 833.8 120.8 833 120.5 832.2 131.1 831.4 154.1 830.6 152.3 829.8 137.9 829 119.3 828.2 119.2 827.4 119.8 826.6 120.5 825.8 121.3 825 129.4 824.2 138.6 823.4 146.1 822.6 123.2 821.8 130.1 821 135.5 820.2 132.9 819.4 140.4 818.6 135.3 817.8 129.4 817 128.3 816.2 131.1 815.4 132.7 814.6 125.6 813.8 141.6 813 157.4 812.2 153.3 811.4 143.1 810.6 140.3 809.8 137.2 809 133.7 808.2 128.7 807.4 134.1 806.6 143.9 805.8 143.1 805 137.3 804.2 131 803.4 135.6 802.6 141.4 801.8 138.8 801 135.5 800.2 132.1 799.4 129.6 798.6 127.3 797.8 126.4 797 135.6 796.2 133.7 795.4 128.9 794.6 123 793.8 127.1 793 137.9 792.2 130.8 791.4 127.8 790.6 130.2 789.8 132.1 789 129.4 788.2 126.7 787.4 123.8 786.6 120.7 785.8 117.2 785 128.8 784.2 127.3 783.4 122.6 782.6 117.8 781.8 117.2 781 116.9 780.2 116.6 779.4 129.1 778.6 124.2 777.8 118.3 777 118.4 776.2 118.6 775.4 119 774.6 127.3 773.8 138.1 773 146.7 772.2 136.7 771.4 125.2 770.6 133.7 769.8 133.5 769 130.4 768.2 127 767.4 135.1 766.6 146 765.8 118.5 765 121.3 764.2 127.5 763.4 131.8 762.6 134 761.8 131.9 761 129.7 760.2 127.3 759.4 128 758.6 130.8 757.8 133.1 757 127.1 756.2 119.3 755.4 119.6 754.6 120.4 753.8 128.5 753 137.5 752.2 138.7 751.4 119.2 750.6 118.6 749.8 126.1 749 140.2 748.2 152.2 747.4 145.5 746.6 134.3 745.8 119.7 745 117.4 744.2 116.6 743.4 130.5 742.6 144.6 741.8 122 741 134.9 740.2 135.6 739.4 132 738.6 128.4 737.8 124.9 737 127.2 736.2 129.3 735.4 129.1 734.6 127.1 733.8 124.6 733 120.9 732.2 116.8 731.4 120.3 730.6 127.2 729.8 120.6 729 120 728.2 122.5 727.4 124.3 726.6 125.8 725.8 127.2 725 133.1 724.2 135.3 723.4 116.7 722.6 117.4 721.8 117.7 721 117.3 720.2 119.3 719.4 122.3 718.6 125.6 717.8 128.6 717 129.2 716.2 126.2 715.4 122.2 714.6 122.3 713.8 126.3 713 134.2 712.2 143.4 711.4 151.5 710.6 158.7 709.8 153.9 709 149.4 708.2 144.7 707.4 138.3 706.6 131.1 705.8 127.4 705 132 704.2 136.3 703.4 139.1 702.6 141.4 701.8 137.4 701 124.2 700.2 120.8 699.4 122 698.6 122.9 697.8 123.9 697 125.6 696.2 123 695.4 119.8 694.6 121.4 693.8 125.6 693 129.3 692.2 128.8 691.4 120.7 690.6 123.2 689.8 125.7 689 128.2 688.2 128.2 687.4 126.7 686.6 125.2 685.8 123.3 685 126.3 684.2 130.6 683.4 133.6 682.6 136.2 681.8 133.5 681 128.1 680.2 121.2 679.4 119.5 678.6 119.3 677.8 130.7 677 140.5 676.2 149.1 675.4 131.1 674.6 133.1 673.8 128.5 673 122.4 672.2 118 671.4 118.2 670.6 122 669.8 129.2 669 134.2 668.2 138.7 667.4 138.9 666.6 133.5 665.8 127.7 665 120.7 664.2 119 663.4 141.7 662.6 133.8 661.8 116.8 661 116.6 660.2 134.9 659.4 149.6 658.6 141.4 657.8 132.5 657 127.4 656.2 130.8 655.4 134 654.6 137 653.8 136.4 653 129.4 652.2 138.7 651.4 128.1 650.6 125.9 649.8 128.9 649 131.4 648.2 134.3 647.4 139.3 646.6 134.8 645.8 130.1 645 126.4 644.2 129.5 643.4 131.8 642.6 130.1 641.8 127.8 641 126.3 640.2 128.9 639.4 130.6 638.6 126.1 637.8 121.4 637 115.8 636.2 115.5 635.4 116.1 634.6 119.8 633.8 133.8 633 127.9 632.2 117 631.4 116.3 630.6 115.3 629.8 114.8 629 123.9 628.2 131.1 627.4 127.3 626.6 123 625.8 117.7 625 117.2 624.2 117.9 623.4 126.9 622.6 133.6 621.8 132.2 621 118 620.2 123.2 619.4 132.5 618.6 128.2 617.8 123.7 617 118.8 616.2 125 615.4 128.7 614.6 126.2 613.8 123.8 613 122Z" fill="#000"/>
<path d="M1507.5 124 1508.3 124.3 1509.1 124.7 1509.9 125 1510.7 125.3 1511.5 125.6 1512.3 125.9 1513.1 126.2 1513.9 126.6 1514.7 126.9 1515.5 127.2 1516.3 127.5 1517.1 127.8 1517.9 128.2 1518.7 128.5 1519.5 128.8 1520.3 129.1 1521.1 129.4 1521.9 129.7 1522.7 130.1 1523.5 130.4 1524.3 130.7 1525.1 131 1525.9 131.3 1526.7 131.7 1527.5 132 1528.3 132.3 1529.1 132.6 1529.9 132.9 1530.7 133.2 1531.5 133.6 1532.3 133.9 1533.1 134.2 1533.9 134.5 1534.7 134.8 1535.5 135.1 1536.3 135.5 1537.1 135.8 1537.9 136.1 1538.7 136.4 1539.5 136.7 1540.3 137.1 1541.1 137.4 1541.9 137.7 1542.7 138 1543.5 138.3 1544.3 138.6 1545.1 139 1545.9 139.3 1546.7 139.6 1547.5 140.1 1548.3 140.6 1549.1 141.1 1549.9 141.7 1550.7 142.2 1551.5 142.7 1552.3 143.2 1553.1 143.8 1553.9 144.3 1554.7 144.8 1555.5 145.4 1556.3 145.9 1557.1 146.4 1557.9 146.9 1558.7 147.5 1559.5 148 1560.3 148.5 1561.1 149.1 1561.9 149.6 1562.7 150.1 1563.5 150.7 1564.3 151.2 1565.1 151.7 1565.9 152.2 1566.7 152.8 1567.5 153.3 1568.3 153.8 1569.1 154.4 1569.9 154.9 1570.7 155.4 1571.5 155.9 1572.3 156.5 1573.1 157 1573.9 157.5 1574.7 158.1 1575.5 158.6 1576.3 159.1 1577.1 159.6 1577.9 160.2 1578.7 160.7 1579.5 161.2 1580.3 161.8 1581.1 162.4 1581.9 163.1 1582.7 163.8 1583.5 164.5 1584.3 165.2 1585.1 165.9 1585.9 166.6 1586.7 167.3 1587.5 168 1588.3 168.7 1589.1 169.4 1589.9 170.1 1590.7 170.7 1591.5 171.4 1592.3 172.1 1593.1 172.8 1593.9 173.5 1594.7 174.2 1595.5 174.9 1596.3 175.6 1597.1 176.3 1597.9 177 1598.7 177.7 1599.5 178.4 1600.3 179 1601.1 179.7 1601.9 180.4 1602.7 181.1 1603.5 181.8 1604.3 182.5 1605.1 183.2 1605.9 183.9 1606.7 184.6 1607.5 185.3 1608.3 186 1609.1 186.7 1609.9 187.3 1610.7 188 1611.5 188.7 1612.3 189.4 1613.1 190.1 1613.9 190.9 1614.7 192 1615.5 193 1616.3 194 1617.1 195 1617.9 196 1618.7 197 1619.5 198.1 1620.3 199.1 1621.1 200.1 1621.9 201.1 1622.7 202.1 1623.5 203.1 1624.3 204.2 1625.1 205.2 1625.9 206.2 1626.7 207.2 1627.5 208.2 1628.3 209.2 1629.1 210.3 1629.9 211.3 1630.7 212.3 1631.5 214.6 1632.3 217.6 1633.1 220.5 1633.9 223.4 1634.7 226.4 1635.5 229.3 1636.3 232.3 1637.1 235.2 1637.9 238.2 1638.7 241.1 1639.5 244 1640.3 249.2 1641.1 257.1 1641.9 265 1642.7 272.8 1643.5 280.7 1644.3 288.6 1645.1 296.5 1645.5 202.2 L1645.5 241.5 1645.1 328.3 1644.3 322.3 1643.5 315.1 1642.7 306.3 1641.9 295 1641.1 298.7 1640.3 302.3 1639.5 306.3 1638.7 307.4 1637.9 299.6 1637.1 293.8 1636.3 291.2 1635.5 285.4 1634.7 278.8 1633.9 275.2 1633.1 276.2 1632.3 274.5 1631.5 269.6 1630.7 268.6 1629.9 268 1629.1 270.2 1628.3 278.2 1627.5 284.5 1626.7 264.5 1625.9 248.3 1625.1 253.1 1624.3 256.6 1623.5 259.9 1622.7 259.2 1621.9 253.3 1621.1 249.3 1620.3 252.3 1619.5 256 1618.7 253.3 1617.9 246.8 1617.1 237.6 1616.3 226.3 1615.5 232.6 1614.7 232.3 1613.9 230.5 1613.1 237.2 1612.3 240.8 1611.5 235.5 1610.7 229 1609.9 221.7 1609.1 226.1 1608.3 230.4 1607.5 234.1 1606.7 237.5 1605.9 240.8 1605.1 245.9 1604.3 245.6 1603.5 236.3 1602.7 241 1601.9 233.9 1601.1 226 1600.3 217.7 1599.5 208.9 1598.7 203.5 1597.9 198.6 1597.1 207.6 1596.3 215.1 1595.5 212.9 1594.7 205.8 1593.9 198.8 1593.1 205.4 1592.3 223.3 1591.5 212.3 1590.7 198.4 1589.9 191.5 1589.1 195.3 1588.3 196.8 1587.5 194 1586.7 200.8 1585.9 208.3 1585.1 202.1 1584.3 195.7 1583.5 192.6 1582.7 187 1581.9 183.2 1581.1 186.9 1580.3 180.9 1579.5 174.6 1578.7 172 1577.9 171.4 1577.1 171.5 1576.3 180.6 1575.5 188.9 1574.7 186.5 1573.9 183.2 1573.1 179 1572.3 174.3 1571.5 168.4 1570.7 167.3 1569.9 181.6 1569.1 188.4 1568.3 166 1567.5 165.9 1566.7 165.8 1565.9 165.8 1565.1 168.8 1564.3 174.4 1563.5 178.7 1562.7 166.9 1561.9 163.5 1561.1 163.3 1560.3 167.5 1559.5 178.1 1558.7 184.4 1557.9 161.5 1557.1 161.6 1556.3 161.7 1555.5 161.1 1554.7 159.9 1553.9 165.3 1553.1 174.1 1552.3 163.8 1551.5 166.7 1550.7 182.5 1549.9 176.1 1549.1 156.5 1548.3 156.6 1547.5 155.9 1546.7 154.4 1545.9 159.5 1545.1 162 1544.3 155.2 1543.5 151.8 1542.7 151.5 1541.9 151.2 1541.1 164.3 1540.3 165.6 1539.5 158.4 1538.7 151.2 1537.9 150.7 1537.1 152.2 1536.3 158.2 1535.5 162.4 1534.7 165.6 1533.9 165.8 1533.1 158.6 1532.3 149.8 1531.5 154 1530.7 157.6 1529.9 160.8 1529.1 161.7 1528.3 162.4 1527.5 161 1526.7 158.3 1525.9 160.4 1525.1 162.1 1524.3 158.7 1523.5 160.8 1522.7 154.7 1521.9 147.9 1521.1 142.6 1520.3 143.3 1519.5 143.3 1518.7 142.8 1517.9 146.6 1517.1 150.8 1516.3 151.5 1515.5 147 1514.7 141.2 1513.9 140.1 1513.1 139.9 1512.3 139.7 1511.5 141.2 1510.7 146.6 1509.9 151 1509.1 146.8 1508.3 141.6 1507.5 137.5Z" fill="#000"/>
<path d="M1645.7 104.5 1646.5 104.6 1647.2 104.6 1648 104.7 1648.8 104.8 1649.6 104.8 1650.4 104.9 1651.2 105 1652 105 1652.8 105.1 1653.6 105.2 1654.4 105.2 1655.2 105.3 1656 105.3 1656.8 105.4 1657.6 105.5 1658.4 105.5 1659.2 105.6 1660 105.7 1660.8 105.7 1661.6 105.8 1662.4 105.9 1663.2 105.9 1664 106 1664.8 106.1 1665.6 106.1 1666.4 106.2 1667.2 106.3 1668 106.3 1668.8 106.4 1669.6 106.5 1670.4 106.5 1671.2 106.6 1672 106.6 1672.8 106.7 1673.6 106.8 1674.4 106.8 1675.2 106.9 1676 107 1676.8 107 1677.6 107.1 1678.4 107.2 1679.2 107.2 1680 107.3 1680.8 107.4 1681.6 107.4 1682.4 107.5 1683.2 107.6 1684 107.6 1684.8 107.7 1685.6 107.8 1686.4 107.8 1687.2 107.9 1688 107.9 1688.8 108 1689.6 108.1 1690.4 108.1 1691.2 108.2 1692 108.3 1692.8 108.3 1693.6 108.4 1694.4 108.5 1695.2 108.5 1696 108.6 1696.8 108.7 1697.6 108.7 1698.4 108.8 1699.2 108.9 1700 108.9 1700.8 109 1701.6 109 1702.4 109.1 1703.2 109.2 1704 109.2 1704.8 109.3 1705.6 109.4 1706.4 109.4 1707.2 109.5 1708 109.6 1708.8 109.6 1709.6 109.7 1710.4 109.8 1711.2 109.8 1712 109.9 1712.8 110 1713.6 110 1714.4 110.1 1715.2 110.2 1716 110.2 1716.8 110.3 1717.6 110.3 1718.4 110.4 1719.2 110.5 1720 110.5 1720.8 110.6 1721.6 110.7 1722.4 110.7 1723.2 110.8 1724 110.9 1724.8 110.9 1725.6 111 1726.4 111.1 1727.2 111.1 1728 111.2 1728.8 111.3 1729.6 111.3 1730.4 111.4 1731.2 111.5 1732 111.5 1732.8 111.6 1733.6 111.6 1734.4 111.7 1735.2 111.8 1736 111.8 1736.8 111.9 1737.6 112 1738.4 112.1 1739.2 112.3 1740 112.6 1740.8 112.8 1741.6 113 1742.4 113.2 1743.2 113.4 1744 113.6 1744.8 113.9 1745.6 114.1 1746.4 114.3 1747.2 114.5 1748 114.7 1748.8 115 1749.6 115.2 1750.4 115.4 1751.2 115.6 1752 115.8 1752.8 116 1753.6 116.3 1754.4 116.5 1755.2 116.7 1756 116.9 1756.8 117.1 1757.6 117.4 1758.4 117.6 1759.2 117.8 1760 118 1760.8 118.5 1761.6 118.9 1762.4 119.3 1763.2 119.7 1764 120.2 1764.8 120.6 1765.6 121 1766.4 121.4 1767.2 121.9 1768 122.3 1768.8 122.7 1769.6 123.1 1770.4 123.6 1771.2 124 1772 124.4 1772.8 124.9 1773.6 125.3 1774.4 125.7 1775.2 126.2 1776 127 1776.8 127.7 1777.6 128.4 1778.4 129.2 1779.2 129.9 1780 130.6 1780.8 131.4 1781.6 132.1 1782.4 132.8 1783.2 133.6 1784 134.3 1784.8 135 1785.6 135.8 1786 124 L1786 156.5 1785.6 169.7 1784.8 172.9 1784 181 1783.2 183 1782.4 177.2 1781.6 169.9 1780.8 164.9 1780 169.7 1779.2 179.3 1778.4 174.5 1777.6 168.7 1776.8 162 1776 161.1 1775.2 169.4 1774.4 169.1 1773.6 164.2 1772.8 168.2 1772 175.1 1771.2 181.7 1770.4 182.7 1769.6 156.4 1768.8 155.5 1768 154.6 1767.2 161.8 1766.4 179.2 1765.6 169 1764.8 153.9 1764 153.2 1763.2 161.5 1762.4 165.3 1761.6 161 1760.8 167.7 1760 160.4 1759.2 152.9 1758.4 153.5 1757.6 166 1756.8 158.4 1756 149.9 1755.2 149.5 1754.4 164.2 1753.6 168 1752.8 149.5 1752 150.6 1751.2 153.6 1750.4 155.6 1749.6 157.5 1748.8 152 1748 149.7 1747.2 152.1 1746.4 154.2 1745.6 153.4 1744.8 151 1744 148.2 1743.2 145 1742.4 144.9 1741.6 145.8 1740.8 149.6 1740 152.6 1739.2 151.8 1738.4 155.2 1737.6 155 1736.8 151.9 1736 148.7 1735.2 145.8 1734.4 142.6 1733.6 144.2 1732.8 147.7 1732 150.8 1731.2 154.9 1730.4 158.4 1729.6 160.6 1728.8 159.5 1728 145.9 1727.2 140.7 1726.4 140.5 1725.6 149.9 1724.8 160.4 1724 169.6 1723.2 152.2 1722.4 158.4 1721.6 154.4 1720.8 157.5 1720 160.4 1719.2 159.8 1718.4 155.9 1717.6 152 1716.8 156.2 1716 154.9 1715.2 152.4 1714.4 149.7 1713.6 146.3 1712.8 141.8 1712 141.2 1711.2 147.3 1710.4 151.1 1709.6 149.5 1708.8 148.2 1708 146.8 1707.2 144.3 1706.4 141.6 1705.6 139.2 1704.8 138.1 1704 139.1 1703.2 138.3 1702.4 143.6 1701.6 142.8 1700.8 135.9 1700 135.2 1699.2 137.6 1698.4 141.1 1697.6 144 1696.8 138.3 1696 151.6 1695.2 147.9 1694.4 136 1693.6 136.3 1692.8 155.3 1692 148 1691.2 138.7 1690.4 136 1689.6 136.1 1688.8 136.9 1688 140.1 1687.2 147.9 1686.4 148.7 1685.6 152.9 1684.8 156.2 1684 159.2 1683.2 157 1682.4 152.3 1681.6 146.9 1680.8 144.2 1680 147 1679.2 147.7 1678.4 145.2 1677.6 142.9 1676.8 140.9 1676 138.4 1675.2 137.9 1674.4 151.1 1673.6 160.1 1672.8 155.7 1672 151.1 1671.2 146.1 1670.4 140.7 1669.6 134.8 1668.8 133.8 1668 137.7 1667.2 150 1666.4 155.7 1665.6 149 1664.8 146.4 1664 153 1663.2 158.6 1662.4 159.9 1661.6 156.4 1660.8 152.8 1660 149 1659.2 155.9 1658.4 144.1 1657.6 133.7 1656.8 133 1656 137.3 1655.2 141 1654.4 131.4 1653.6 131 1652.8 133.9 1652 140.1 1651.2 137.7 1650.4 131.2 1649.6 152.2 1648.8 140.7 1648 132.4 1647.2 132.1 1646.5 143.1 1645.7 152.5Z" fill="#000"/>
<path d="M1786 112 1786.8 112.2 1787.6 112.3 1788.4 112.5 1789.2 112.6 1790 112.8 1790.8 113 1791.6 113.1 1792.4 113.3 1793.2 113.4 1794 113.6 1794.8 113.7 1795.6 113.9 1796.4 114.1 1797.2 114.2 1798 114.4 1798.8 114.5 1799.6 114.7 1800.4 114.8 1801.2 115 1802 115.2 1802.8 115.3 1803.6 115.5 1804.4 115.6 1805.2 115.8 1806 115.9 1806.8 116.1 1807.6 116.3 1808.4 116.4 1809.2 116.6 1810 116.7 1810.8 116.9 1811.6 117 1812.4 117.2 1813.2 117.4 1814 117.5 1814.8 117.7 1815.6 117.8 1816.4 118 1817.2 118.1 1818 118.3 1818.8 118.5 1819.6 118.6 1820.4 118.8 1821.2 118.9 1822 119.1 1822.8 119.2 1823.6 119.4 1824.4 119.6 1825.2 119.7 1826 119.9 1826.8 120 1827.6 120.2 1828.4 120.3 1829.2 120.5 1830 120.7 1830.8 120.8 1831.6 121 1832.4 121.1 1833.2 121.3 1834 121.4 1834.8 121.6 1835.6 121.8 1836.4 121.9 1837.2 122.1 1838 122.2 1838.8 122.4 1839.6 122.5 1840.4 122.7 1841.2 122.9 1842 123 1842.8 123.3 1843.6 123.6 1844.4 123.9 1845.2 124.2 1846 124.5 1846.8 124.9 1847.6 125.2 1848.4 125.5 1849.2 125.8 1850 126.1 1850.8 126.4 1851.6 126.7 1852.4 127 1853.2 127.3 1854 127.6 1854.8 127.9 1855.6 128.2 1856.4 128.5 1857.2 128.8 1858 129.1 1858.8 129.4 1859.6 129.8 1860.4 130.1 1861.2 130.4 1862 130.7 1862.8 131 1863.6 131.3 1864.4 131.6 1865.2 131.9 1866 132.2 1866.8 132.5 1867.6 132.8 1868.4 133.1 1869.2 133.4 1870 134 1870.8 134.8 1871.6 135.6 1872.4 136.4 1873.2 137.2 1874 138 1874.8 138.8 1875.6 139.6 1876.4 140 1876.5 140 L1876.5 171.2 1876.4 171.2 1875.6 171.1 1874.8 170 1874 168.9 1873.2 168.5 1872.4 178.3 1871.6 173.1 1870.8 168.7 1870 169.3 1869.2 168.2 1868.4 174.7 1867.6 186.1 1866.8 171 1866 167.7 1865.2 167.5 1864.4 167.3 1863.6 166.7 1862.8 165.6 1862 174.7 1861.2 183.3 1860.4 189.7 1859.6 180 1858.8 197.6 1858 193.6 1857.2 184.8 1856.4 175 1855.6 166.9 1854.8 171 1854 174.5 1853.2 177.4 1852.4 173.1 1851.6 168.1 1850.8 161.9 1850 157.2 1849.2 156.8 1848.4 161.8 1847.6 166 1846.8 170.4 1846 172.4 1845.2 156.6 1844.4 156 1843.6 160.2 1842.8 176.1 1842 181.4 1841.2 164.1 1840.4 155.8 1839.6 165.6 1838.8 170.9 1838 163.9 1837.2 171.1 1836.4 177.6 1835.6 183.2 1834.8 177.7 1834 182.4 1833.2 173.5 1832.4 163.7 1831.6 150.6 1830.8 150.5 1830 150.3 1829.2 150.2 1828.4 152.7 1827.6 182 1826.8 173 1826 163.3 1825.2 152.8 1824.4 149.1 1823.6 148.9 1822.8 147.9 1822 147 1821.2 156.8 1820.4 164.7 1819.6 171.4 1818.8 148.4 1818 157.9 1817.2 165 1816.4 171.2 1815.6 176.8 1814.8 171.8 1814 156.3 1813.2 146.2 1812.4 156.1 1811.6 164.5 1810.8 164 1810 160.2 1809.2 155.8 1808.4 151.2 1807.6 147.1 1806.8 157.4 1806 152.4 1805.2 143.7 1804.4 143.5 1803.6 143.2 1802.8 142.8 1802 156.4 1801.2 160.9 1800.4 167.7 1799.6 160.2 1798.8 154 1798 155.9 1797.2 147.4 1796.4 142.1 1795.6 141.7 1794.8 142.1 1794 150.4 1793.2 152.8 1792.4 147 1791.6 140.7 1790.8 140 1790 139.3 1789.2 139.2 1788.4 142.1 1787.6 145.2 1786.8 147.1 1786 142.6Z" fill="#000"/>
<path d="M322 93.3H1877.5" stroke="#222" stroke-width="2.6" fill="none"/>
<path d="M1260 100.2L1500 104.2H1646" stroke="#111" stroke-width="2" fill="none"/>
<path d="M1738 112H1786" stroke="#111" stroke-width="2.4" fill="none"/>
<path d="M1873.8 92.2V117.5a2.8 3 0 0 0 5.6 0V92.2Z" fill="#000"/>
<path d="M322.6 92V113" stroke="#000" stroke-width="1.6" fill="none"/>
<path d="M589 92L591.8 137L593.9 160L598.4 212L602.4 266L605.6 319L608.2 372L609.8 407L614.3 408L614.3 92Z" fill="#000"/>
<path d="M591.3 94.6L609.6 94.6L609.6 236L608 236L605.6 200L603 172L600.8 150L598.6 137L596 120L593.6 105Z" fill="#fff"/>
<path d="M1035 97H1039V104Q1037.2 99.1 1035 97ZM1052 98H1059V110Q1055.8 101.6 1052 98ZM1062 99H1065V105Q1063.7 100.8 1062 99ZM1222 100.5H1234V111.5Q1228.6 103.8 1222 100.5ZM1276 101H1279V106Q1277.7 102.5 1276 101ZM1290 101.5H1300V109.5Q1295.5 103.9 1290 101.5ZM1306 102H1311V108Q1308.8 103.8 1306 102ZM1314 102H1322V109Q1318.4 104.1 1314 102ZM1352 102.5H1357V112.5Q1354.8 105.5 1352 102.5ZM829 95.6H834.5V101.6Q832 97.4 829 95.6ZM898 95.4H912V101.9Q905.7 97.4 898 95.4ZM963 96H968V102Q965.8 97.8 963 96ZM1753 117H1758V127Q1755.8 120 1753 117ZM1808 120H1811V124Q1809.7 121.2 1808 120ZM1830 124.5H1841V129.5Q1836 126 1830 124.5ZM1838 134H1841V142Q1839.7 136.4 1838 134ZM1863 135H1867V142Q1865.2 137.1 1863 135ZM1735 113H1738V116Q1736.7 113.9 1735 113Z" fill="#fff"/>
<path d="M501.2 94.6L504.2 94.6L505.4 127L503.6 127Z M640 94.6H642.8V121H640Z M652.2 94.6H657V111L655.2 116Z M714.7 96H716.3V130H714.7Z M721.6 94.6H724V112H721.6Z M799.6 94.6H801.4V118H799.6Z" fill="#fff"/>
<path d="M598 135.5L609.5 139" stroke="#111" stroke-width="1.6" fill="none"/>
<path d="M648.5 93 C651.5 130 654 200 655.6 300 L658.6 300 C658.4 200 656.5 130 653.5 93Z" fill="#000"/>
<path d="M500.3 93 L503.3 700 L505.6 700 L503.5 93Z" fill="#111"/>
<path d="M370.9 92V137" stroke="#000" stroke-width="2.2" fill="none"/>
<path d="M394.9 92V176.5" stroke="#000" stroke-width="2.4" fill="none"/>
<path d="M409 92V137" stroke="#000" stroke-width="2" fill="none"/>
<path d="M425.8 92V150" stroke="#000" stroke-width="2.2" fill="none"/>
<path d="M443.4 92V147" stroke="#000" stroke-width="2.2" fill="none"/>
<path d="M470.8 92V289" stroke="#000" stroke-width="2.2" fill="none"/>
<path d="M476.8 92V151" stroke="#000" stroke-width="2" fill="none"/>
<path d="M487.8 92V170" stroke="#000" stroke-width="2.2" fill="none"/>
<path d="M492.5 92V279" stroke="#000" stroke-width="3.2" fill="none"/>
<path d="M496 92V342.5" stroke="#000" stroke-width="3.6" fill="none"/>
<path d="M499 92V300" stroke="#000" stroke-width="2.5" fill="none"/>
<path d="M494.3 92V250" stroke="#000" stroke-width="3" fill="none"/>
<path d="M505.8 92V158" stroke="#000" stroke-width="2.2" fill="none"/>
<path d="M542.8 92V519" stroke="#000" stroke-width="2.4" fill="none"/>
<path d="M552 92V180.5" stroke="#000" stroke-width="2.4" fill="none"/>
<path d="M560 92V150" stroke="#000" stroke-width="2" fill="none"/>
<path d="M622.5 92V156" stroke="#000" stroke-width="2.2" fill="none"/>
<path d="M637.8 92V555.5" stroke="#000" stroke-width="2.2" fill="none"/>
<path d="M638.5 92V330" stroke="#000" stroke-width="4.2" fill="none"/>
<path d="M641 92V190" stroke="#000" stroke-width="3" fill="none"/>
<path d="M632 92V160" stroke="#000" stroke-width="2" fill="none"/>
<path d="M645 92V150" stroke="#000" stroke-width="2" fill="none"/>
<path d="M685.5 92V166.5" stroke="#000" stroke-width="2.2" fill="none"/>
<path d="M695 92V145" stroke="#000" stroke-width="2" fill="none"/>
<path d="M708.5 92V248" stroke="#000" stroke-width="3.2" fill="none"/>
<path d="M710.9 92V469" stroke="#000" stroke-width="2.5" fill="none"/>
<path d="M716.8 92V459" stroke="#000" stroke-width="2.5" fill="none"/>
<path d="M713.5 92V160" stroke="#000" stroke-width="3" fill="none"/>
<path d="M724.9 92V300" stroke="#000" stroke-width="3.2" fill="none"/>
<path d="M722.5 92V200" stroke="#000" stroke-width="3" fill="none"/>
<path d="M748 92V140" stroke="#000" stroke-width="2.2" fill="none"/>
<path d="M797.5 92V477.5" stroke="#000" stroke-width="2.4" fill="none"/>
<path d="M798.3 92V355" stroke="#000" stroke-width="4" fill="none"/>
<path d="M810.4 92V164" stroke="#000" stroke-width="2.2" fill="none"/>
<path d="M829.7 92V150" stroke="#000" stroke-width="3" fill="none"/>
<path d="M847 92V157" stroke="#000" stroke-width="2.4" fill="none"/>
<path d="M870.6 92V161.5" stroke="#000" stroke-width="3" fill="none"/>
<path d="M912 92V193" stroke="#000" stroke-width="3" fill="none"/>
<path d="M909 92V165" stroke="#000" stroke-width="3" fill="none"/>
<path d="M944 92V181" stroke="#000" stroke-width="2.4" fill="none"/>
<path d="M961 92V234.5" stroke="#000" stroke-width="2.6" fill="none"/>
<path d="M965.6 92V175" stroke="#000" stroke-width="3" fill="none"/>
<path d="M958 92V160" stroke="#000" stroke-width="3" fill="none"/>
<path d="M977.5 92V150" stroke="#000" stroke-width="2.2" fill="none"/>
<path d="M1008 92V221" stroke="#000" stroke-width="2.6" fill="none"/>
<path d="M1038 92V154.5" stroke="#000" stroke-width="2.2" fill="none"/>
<path d="M1055.4 92V198.5" stroke="#000" stroke-width="3" fill="none"/>
<path d="M1052 92V170" stroke="#000" stroke-width="3" fill="none"/>
<path d="M1064.5 92V193" stroke="#000" stroke-width="2.2" fill="none"/>
<path d="M1072.8 92V190.5" stroke="#000" stroke-width="2.4" fill="none"/>
<path d="M1100 92.7V152" stroke="#000" stroke-width="2.2" fill="none"/>
<path d="M1120.6 93.7V161.5" stroke="#000" stroke-width="2.4" fill="none"/>
<path d="M1138.3 94.5V417" stroke="#000" stroke-width="2.4" fill="none"/>
<path d="M1150 95V156" stroke="#000" stroke-width="3" fill="none"/>
<path d="M1170 95.6V163" stroke="#000" stroke-width="2.4" fill="none"/>
<path d="M1194 96.4V152" stroke="#000" stroke-width="2.4" fill="none"/>
<path d="M1224.8 97.3V225" stroke="#000" stroke-width="2.6" fill="none"/>
<path d="M1222 97.2V160" stroke="#000" stroke-width="3" fill="none"/>
<path d="M1251.5 98.2V164" stroke="#000" stroke-width="2.4" fill="none"/>
<path d="M1277.5 98.7V158.5" stroke="#000" stroke-width="2.4" fill="none"/>
<path d="M1287.6 98.9V163" stroke="#000" stroke-width="2.6" fill="none"/>
<path d="M1308.6 99.2V205" stroke="#000" stroke-width="2.6" fill="none"/>
<path d="M1319.7 99.4V165" stroke="#000" stroke-width="3" fill="none"/>
<path d="M1337.3 99.7V371.5" stroke="#000" stroke-width="2.4" fill="none"/>
<path d="M1358.3 100V184" stroke="#000" stroke-width="2.8" fill="none"/>
<path d="M1355 99.9V160" stroke="#000" stroke-width="3" fill="none"/>
<path d="M1392 103.1V182.5" stroke="#000" stroke-width="2.6" fill="none"/>
<path d="M1478.8 120.4V181.5" stroke="#000" stroke-width="2.4" fill="none"/>
<path d="M1486 122.4V165" stroke="#000" stroke-width="2.2" fill="none"/>
<path d="M1507.6 124V169.5" stroke="#000" stroke-width="2.4" fill="none"/>
<path d="M1550 141.7V184" stroke="#000" stroke-width="2.4" fill="none"/>
<path d="M1572 156.2V190" stroke="#000" stroke-width="2.2" fill="none"/>
<path d="M1588 168.4V202" stroke="#000" stroke-width="2.2" fill="none"/>
<path d="M1600 178.7V232" stroke="#000" stroke-width="2.4" fill="none"/>
<path d="M1611 188.3V251" stroke="#000" stroke-width="2.4" fill="none"/>
<path d="M1629 210.1V290" stroke="#000" stroke-width="2.4" fill="none"/>
<path d="M1661 105.8V154" stroke="#000" stroke-width="2.6" fill="none"/>
<path d="M1692 108.3V161" stroke="#000" stroke-width="3" fill="none"/>
<path d="M1723 110.8V160" stroke="#000" stroke-width="2.4" fill="none"/>
<path d="M1735 111.8V165" stroke="#000" stroke-width="2.4" fill="none"/>
<path d="M1748 114.7V174" stroke="#000" stroke-width="3" fill="none"/>
<path d="M1756.5 117V173.5" stroke="#000" stroke-width="2.4" fill="none"/>
<path d="M1778 128.8V185.5" stroke="#000" stroke-width="3" fill="none"/>
<path d="M1800 114.8V160" stroke="#000" stroke-width="2.4" fill="none"/>
<path d="M1809 116.5V173" stroke="#000" stroke-width="2.4" fill="none"/>
<path d="M1841 122.8V191.5" stroke="#000" stroke-width="2.4" fill="none"/>
<path d="M1847 124.9V179" stroke="#000" stroke-width="2.2" fill="none"/>
<path d="M1859 129.5V187" stroke="#000" stroke-width="2.4" fill="none"/>
<path d="M1866 132.2V196.5" stroke="#000" stroke-width="2.4" fill="none"/>
<path d="M1875 139V190.5" stroke="#000" stroke-width="2.4" fill="none"/>
<path d="M1507.5 124 C1560 140 1610 175 1632 215 C1642 240 1645 280 1646 329" stroke="#000" stroke-width="4" fill="none"/>
<path d="M1492 124 C1499 150 1504 190 1507.5 230" stroke="#000" stroke-width="4.5" fill="none"/>
<path d="M1492 124.5H1508" stroke="#111" stroke-width="1.6" fill="none"/>
<path d="M1738 112 C1760 116 1778 126 1786 140 V183" stroke="#000" stroke-width="3.5" fill="none"/>
<path d="M1842 123 C1860 127 1872 135 1875.5 150 V190" stroke="#000" stroke-width="3" fill="none"/>
<rect x="322.5" y="751" width="34.7" height="218.5" fill="#c1bcbe"/>
<rect x="356.4" y="751" width="2.4" height="218.5" fill="#b0aec4"/>
<rect x="358.2" y="751" width="2.7" height="218.5" fill="#b0aec4"/>
<rect x="360.2" y="751" width="3.8" height="218.5" fill="#b0aec4"/>
<rect x="363.2" y="751" width="4.1" height="109.3" fill="#b59fb0"/>
<rect x="363.2" y="860.3" width="4.1" height="109.2" fill="#aab6ad"/>
<rect x="366.6" y="751" width="2.9" height="109.3" fill="#90d080"/>
<rect x="366.6" y="860.3" width="2.9" height="109.2" fill="#90d088"/>
<rect x="368.9" y="751" width="2.2" height="109.3" fill="#90d080"/>
<rect x="368.9" y="860.3" width="2.2" height="109.2" fill="#90d088"/>
<rect x="370.4" y="751" width="3.8" height="109.3" fill="#90d080"/>
<rect x="370.4" y="860.3" width="3.8" height="109.2" fill="#90d088"/>
<rect x="373.5" y="751" width="1.7" height="109.3" fill="#90d080"/>
<rect x="373.5" y="860.3" width="1.7" height="109.2" fill="#90d088"/>
<rect x="374.6" y="751" width="2" height="218.5" fill="#b8b0c8"/>
<rect x="375.9" y="751" width="3.2" height="109.3" fill="#b8b0c7"/>
<rect x="375.9" y="860.3" width="3.2" height="109.2" fill="#b8b0c8"/>
<rect x="378.4" y="751" width="3.7" height="218.5" fill="#b8b0c8"/>
<rect x="381.3" y="751" width="2.8" height="109.3" fill="#a8cc9c"/>
<rect x="381.3" y="860.3" width="2.8" height="109.2" fill="#a0cca0"/>
<rect x="383.4" y="751" width="2.8" height="109.3" fill="#a8cc9c"/>
<rect x="383.4" y="860.3" width="2.8" height="109.2" fill="#a0cca0"/>
<rect x="385.5" y="751" width="3.3" height="109.3" fill="#a8cc9c"/>
<rect x="385.5" y="860.3" width="3.3" height="109.2" fill="#a0cca0"/>
<rect x="388.1" y="751" width="2.2" height="109.3" fill="#b4d0a4"/>
<rect x="388.1" y="860.3" width="2.2" height="109.2" fill="#a8c7a7"/>
<rect x="389.6" y="751" width="2.5" height="109.3" fill="#b4d0a4"/>
<rect x="389.6" y="860.3" width="2.5" height="109.2" fill="#a8c8a8"/>
<rect x="391.4" y="751" width="4.2" height="109.3" fill="#b4d0a4"/>
<rect x="391.4" y="860.3" width="4.2" height="109.2" fill="#a8c8a8"/>
<rect x="394.9" y="751" width="2.8" height="109.3" fill="#a0b898"/>
<rect x="394.9" y="860.3" width="2.8" height="109.2" fill="#a0b0a0"/>
<rect x="397.1" y="751" width="3.1" height="109.3" fill="#a0b898"/>
<rect x="397.1" y="860.3" width="3.1" height="109.2" fill="#a0b0a0"/>
<rect x="399.5" y="751" width="2.8" height="218.5" fill="#a898af"/>
<rect x="401.6" y="751" width="3.1" height="218.5" fill="#a898b0"/>
<rect x="404" y="751" width="2.3" height="109.3" fill="#b8b4b4"/>
<rect x="404" y="860.3" width="2.3" height="109.2" fill="#a8b4b8"/>
<rect x="405.6" y="751" width="4.8" height="109.3" fill="#b8b4b4"/>
<rect x="405.6" y="860.3" width="4.8" height="109.2" fill="#a8b4b8"/>
<rect x="409.7" y="751" width="3.2" height="109.3" fill="#a0b8c8"/>
<rect x="409.7" y="860.3" width="3.2" height="109.2" fill="#90c0d0"/>
<rect x="412.1" y="751" width="2.4" height="109.3" fill="#a0b8c8"/>
<rect x="412.1" y="860.3" width="2.4" height="109.2" fill="#90c0d0"/>
<rect x="413.8" y="751" width="3.2" height="109.3" fill="#a0b8c8"/>
<rect x="413.8" y="860.3" width="3.2" height="109.2" fill="#90c0d0"/>
<rect x="416.2" y="751" width="2" height="109.3" fill="#a0b8c8"/>
<rect x="416.2" y="860.3" width="2" height="109.2" fill="#90c0d0"/>
<rect x="417.6" y="751" width="2.8" height="109.3" fill="#acc66b"/>
<rect x="417.6" y="860.3" width="2.8" height="109.2" fill="#8cc2a2"/>
<rect x="419.7" y="751" width="2" height="109.3" fill="#a8d070"/>
<rect x="419.7" y="860.3" width="2" height="109.2" fill="#90c0a0"/>
<rect x="421" y="751" width="1.8" height="109.3" fill="#a8d070"/>
<rect x="421" y="860.3" width="1.8" height="109.2" fill="#90c0a0"/>
<rect x="422.1" y="751" width="2.6" height="109.3" fill="#5050d0"/>
<rect x="422.1" y="860.3" width="2.6" height="109.2" fill="#5058d0"/>
<rect x="424" y="751" width="3.3" height="109.3" fill="#5050d0"/>
<rect x="424" y="860.3" width="3.3" height="109.2" fill="#5058d0"/>
<rect x="426.6" y="751" width="4.1" height="109.3" fill="#b0a17f"/>
<rect x="426.6" y="860.3" width="4.1" height="109.2" fill="#a7a191"/>
<rect x="430" y="751" width="2" height="109.3" fill="#b09091"/>
<rect x="430" y="860.3" width="2" height="109.2" fill="#a5908e"/>
<rect x="431.3" y="751" width="2.2" height="218.5" fill="#989983"/>
<rect x="432.9" y="751" width="4" height="218.5" fill="#b08898"/>
<rect x="436.2" y="751" width="2.7" height="218.5" fill="#b08898"/>
<rect x="438.2" y="751" width="2.7" height="218.5" fill="#b08898"/>
<rect x="440.2" y="751" width="3.2" height="109.3" fill="#b0a0a0"/>
<rect x="440.2" y="860.3" width="3.2" height="109.2" fill="#a8a0a8"/>
<rect x="442.7" y="751" width="3.3" height="109.3" fill="#b0a0a0"/>
<rect x="442.7" y="860.3" width="3.3" height="109.2" fill="#a8a0a8"/>
<rect x="445.3" y="751" width="3.6" height="109.3" fill="#af9292"/>
<rect x="445.3" y="860.3" width="3.6" height="109.2" fill="#95ab95"/>
<rect x="448.2" y="751" width="2.9" height="109.3" fill="#6bcb98"/>
<rect x="448.2" y="860.3" width="2.9" height="109.2" fill="#72bea8"/>
<rect x="450.3" y="751" width="4.2" height="109.3" fill="#70c8a0"/>
<rect x="450.3" y="860.3" width="4.2" height="109.2" fill="#70c0a8"/>
<rect x="453.8" y="751" width="2.6" height="109.3" fill="#7b8ae3"/>
<rect x="453.8" y="860.3" width="2.6" height="109.2" fill="#8a99e1"/>
<rect x="455.7" y="751" width="3.3" height="109.3" fill="#809ed3"/>
<rect x="455.7" y="860.3" width="3.3" height="109.2" fill="#8f9ee9"/>
<rect x="458.4" y="751" width="3.5" height="109.3" fill="#c8b890"/>
<rect x="458.4" y="860.3" width="3.5" height="109.2" fill="#a8b0b0"/>
<rect x="461.1" y="751" width="1.8" height="109.3" fill="#b2c080"/>
<rect x="461.1" y="860.3" width="1.8" height="109.2" fill="#96b99d"/>
<rect x="462.2" y="751" width="3.3" height="218.5" fill="#9f98d5"/>
<rect x="464.8" y="751" width="2.2" height="218.5" fill="#b0a8d0"/>
<rect x="466.3" y="751" width="3.8" height="109.3" fill="#86bd98"/>
<rect x="466.3" y="860.3" width="3.8" height="109.2" fill="#84b5a0"/>
<rect x="469.3" y="751" width="4" height="109.3" fill="#90b890"/>
<rect x="469.3" y="860.3" width="4" height="109.2" fill="#80b8a0"/>
<rect x="472.7" y="751" width="2.2" height="109.3" fill="#90b890"/>
<rect x="472.7" y="860.3" width="2.2" height="109.2" fill="#80b8a0"/>
<rect x="474.2" y="751" width="3.3" height="109.3" fill="#92b892"/>
<rect x="474.2" y="860.3" width="3.3" height="109.2" fill="#87b8a2"/>
<rect x="476.8" y="751" width="3.3" height="109.3" fill="#82bf82"/>
<rect x="476.8" y="860.3" width="3.3" height="109.2" fill="#84aa95"/>
<rect x="479.4" y="751" width="2.3" height="109.3" fill="#90b890"/>
<rect x="479.4" y="860.3" width="2.3" height="109.2" fill="#80b8a0"/>
<rect x="481" y="751" width="2.3" height="109.3" fill="#939c9b"/>
<rect x="481" y="860.3" width="2.3" height="109.2" fill="#9595aa"/>
<rect x="482.6" y="751" width="2.5" height="218.5" fill="#9090a8"/>
<rect x="484.4" y="751" width="1.9" height="218.5" fill="#9090a8"/>
<rect x="485.5" y="751" width="2.6" height="109.3" fill="#88c0d8"/>
<rect x="485.5" y="860.3" width="2.6" height="109.2" fill="#80c4d8"/>
<rect x="487.4" y="751" width="3.2" height="109.3" fill="#88c0d8"/>
<rect x="487.4" y="860.3" width="3.2" height="109.2" fill="#80c4d8"/>
<rect x="489.9" y="751" width="2.6" height="109.3" fill="#88c0d8"/>
<rect x="489.9" y="860.3" width="2.6" height="109.2" fill="#80c4d8"/>
<rect x="491.8" y="751" width="2.1" height="109.3" fill="#88c0d8"/>
<rect x="491.8" y="860.3" width="2.1" height="109.2" fill="#80c4d8"/>
<rect x="493.2" y="751" width="3.2" height="109.3" fill="#92c5c6"/>
<rect x="493.2" y="860.3" width="3.2" height="109.2" fill="#85c4d6"/>
<rect x="495.7" y="751" width="3.4" height="218.5" fill="#4d5abb"/>
<rect x="498.4" y="751" width="3.9" height="218.5" fill="#b8b0c8"/>
<rect x="501.7" y="751" width="2.7" height="218.5" fill="#b8b0c8"/>
<rect x="503.7" y="751" width="4.6" height="109.3" fill="#c0b295"/>
<rect x="503.7" y="860.3" width="4.6" height="109.2" fill="#9cb6c2"/>
<rect x="507.5" y="751" width="4" height="109.3" fill="#d8d860"/>
<rect x="507.5" y="860.3" width="4" height="109.2" fill="#88c8d8"/>
<rect x="510.8" y="751" width="3.7" height="109.3" fill="#d8d860"/>
<rect x="510.8" y="860.3" width="3.7" height="109.2" fill="#88c8d8"/>
<rect x="513.9" y="751" width="3.8" height="109.3" fill="#70d080"/>
<rect x="513.9" y="860.3" width="3.8" height="109.2" fill="#70d090"/>
<rect x="516.9" y="751" width="2.2" height="109.3" fill="#71d081"/>
<rect x="516.9" y="860.3" width="2.2" height="109.2" fill="#70d090"/>
<rect x="518.4" y="751" width="2.5" height="109.3" fill="#70d080"/>
<rect x="518.4" y="860.3" width="2.5" height="109.2" fill="#70d090"/>
<rect x="520.2" y="751" width="4.6" height="218.5" fill="#d06080"/>
<rect x="524" y="751" width="1.9" height="109.3" fill="#c09080"/>
<rect x="524" y="860.3" width="1.9" height="109.2" fill="#b89090"/>
<rect x="525.3" y="751" width="2.3" height="109.3" fill="#bd848c"/>
<rect x="525.3" y="860.3" width="2.3" height="109.2" fill="#ab9897"/>
<rect x="526.8" y="751" width="2.8" height="109.3" fill="#c09080"/>
<rect x="526.8" y="860.3" width="2.8" height="109.2" fill="#b89090"/>
<rect x="529" y="751" width="3.2" height="109.3" fill="#bf8b85"/>
<rect x="529" y="860.3" width="3.2" height="109.2" fill="#b89292"/>
<rect x="531.5" y="751" width="2.3" height="109.3" fill="#bb9383"/>
<rect x="531.5" y="860.3" width="2.3" height="109.2" fill="#b49392"/>
<rect x="533.1" y="751" width="3.9" height="109.3" fill="#aba48a"/>
<rect x="533.1" y="860.3" width="3.9" height="109.2" fill="#929aab"/>
<rect x="536.3" y="751" width="4.3" height="109.3" fill="#b19082"/>
<rect x="536.3" y="860.3" width="4.3" height="109.2" fill="#99a0a7"/>
<rect x="539.9" y="751" width="4.1" height="109.3" fill="#5868c5"/>
<rect x="539.9" y="860.3" width="4.1" height="109.2" fill="#6178c1"/>
<rect x="543.3" y="751" width="2" height="109.3" fill="#92d14d"/>
<rect x="543.3" y="860.3" width="2" height="109.2" fill="#53bc98"/>
<rect x="544.6" y="751" width="2" height="109.3" fill="#91d447"/>
<rect x="544.6" y="860.3" width="2" height="109.2" fill="#5ed98e"/>
<rect x="545.9" y="751" width="2.6" height="109.3" fill="#90d840"/>
<rect x="545.9" y="860.3" width="2.6" height="109.2" fill="#60d888"/>
<rect x="547.8" y="751" width="2.2" height="109.3" fill="#979e87"/>
<rect x="547.8" y="860.3" width="2.2" height="109.2" fill="#88a69e"/>
<rect x="549.4" y="751" width="2.6" height="109.3" fill="#a28d79"/>
<rect x="549.4" y="860.3" width="2.6" height="109.2" fill="#76aaa1"/>
<rect x="551.2" y="751" width="2.2" height="109.3" fill="#87ae97"/>
<rect x="551.2" y="860.3" width="2.2" height="109.2" fill="#8faba4"/>
<rect x="552.7" y="751" width="2.3" height="109.3" fill="#929b99"/>
<rect x="552.7" y="860.3" width="2.3" height="109.2" fill="#8ca39d"/>
<rect x="554.3" y="751" width="3.3" height="109.3" fill="#92a792"/>
<rect x="554.3" y="860.3" width="3.3" height="109.2" fill="#928982"/>
<rect x="556.9" y="751" width="3.3" height="109.3" fill="#90a890"/>
<rect x="556.9" y="860.3" width="3.3" height="109.2" fill="#80a098"/>
<rect x="559.5" y="751" width="2.6" height="109.3" fill="#90a890"/>
<rect x="559.5" y="860.3" width="2.6" height="109.2" fill="#80a098"/>
<rect x="561.4" y="751" width="3" height="109.3" fill="#94ab8b"/>
<rect x="561.4" y="860.3" width="3" height="109.2" fill="#84a39c"/>
<rect x="563.7" y="751" width="2.1" height="218.5" fill="#a082a0"/>
<rect x="565" y="751" width="2.7" height="218.5" fill="#a080a0"/>
<rect x="567.1" y="751" width="1.8" height="218.5" fill="#9987a4"/>
<rect x="568.2" y="751" width="3.6" height="109.3" fill="#70b0b0"/>
<rect x="568.2" y="860.3" width="3.6" height="109.2" fill="#68b0c0"/>
<rect x="571.2" y="751" width="3.4" height="109.3" fill="#70b0b0"/>
<rect x="571.2" y="860.3" width="3.4" height="109.2" fill="#68b0c0"/>
<rect x="573.9" y="751" width="2.1" height="109.3" fill="#b09870"/>
<rect x="573.9" y="860.3" width="2.1" height="109.2" fill="#a09888"/>
<rect x="575.3" y="751" width="2.7" height="109.3" fill="#ae9976"/>
<rect x="575.3" y="860.3" width="2.7" height="109.2" fill="#94a191"/>
<rect x="577.3" y="751" width="2.1" height="218.5" fill="#8989c2"/>
<rect x="578.7" y="751" width="2.7" height="218.5" fill="#a0a0b8"/>
<rect x="580.6" y="751" width="2" height="218.5" fill="#a7a7bd"/>
<rect x="581.9" y="751" width="2.9" height="218.5" fill="#a0a0b8"/>
<rect x="584.1" y="751" width="25.6" height="218.5" fill="#fb0000"/>
<rect x="609" y="751" width="2" height="109.3" fill="#80b878"/>
<rect x="609" y="860.3" width="2" height="109.2" fill="#78b090"/>
<rect x="610.3" y="751" width="3" height="109.3" fill="#80b878"/>
<rect x="610.3" y="860.3" width="3" height="109.2" fill="#78b090"/>
<rect x="612.6" y="751" width="2.1" height="109.3" fill="#80b878"/>
<rect x="612.6" y="860.3" width="2.1" height="109.2" fill="#78b090"/>
<rect x="614" y="751" width="4" height="109.3" fill="#84bf71"/>
<rect x="614" y="860.3" width="4" height="109.2" fill="#6c9f9b"/>
<rect x="617.3" y="751" width="3.7" height="109.3" fill="#82b074"/>
<rect x="617.3" y="860.3" width="3.7" height="109.2" fill="#7cb192"/>
<rect x="620.3" y="751" width="7.5" height="218.5" fill="#10c840"/>
<rect x="627.1" y="751" width="15.4" height="218.5" fill="#ffc0cb"/>
<rect x="641.8" y="751" width="3.3" height="218.5" fill="#30c060"/>
<rect x="644.4" y="751" width="2.8" height="218.5" fill="#2ac755"/>
<rect x="646.4" y="751" width="2.8" height="218.5" fill="#4fa352"/>
<rect x="648.6" y="751" width="1.9" height="218.5" fill="#30c060"/>
<rect x="649.8" y="751" width="7.5" height="218.5" fill="#00fb00"/>
<rect x="656.5" y="751" width="4.1" height="218.5" fill="#30c060"/>
<rect x="659.9" y="751" width="4.1" height="218.5" fill="#2ab0eb"/>
<rect x="663.3" y="751" width="2.1" height="109.3" fill="#60d080"/>
<rect x="663.3" y="860.3" width="2.1" height="109.2" fill="#60d098"/>
<rect x="664.8" y="751" width="3.9" height="109.3" fill="#60d080"/>
<rect x="664.8" y="860.3" width="3.9" height="109.2" fill="#60d098"/>
<rect x="668" y="751" width="2.9" height="109.3" fill="#60d080"/>
<rect x="668" y="860.3" width="2.9" height="109.2" fill="#60d098"/>
<rect x="670.1" y="751" width="2.3" height="109.3" fill="#a1e28a"/>
<rect x="670.1" y="860.3" width="2.3" height="109.2" fill="#7cd1aa"/>
<rect x="671.7" y="751" width="2.6" height="109.3" fill="#b4e672"/>
<rect x="671.7" y="860.3" width="2.6" height="109.2" fill="#9acdaf"/>
<rect x="673.6" y="751" width="1.7" height="109.3" fill="#a0e090"/>
<rect x="673.6" y="860.3" width="1.7" height="109.2" fill="#80d0a8"/>
<rect x="674.7" y="751" width="4.1" height="218.5" fill="#80b8a0"/>
<rect x="678" y="751" width="2.6" height="218.5" fill="#899684"/>
<rect x="679.9" y="751" width="2.3" height="218.5" fill="#6d9dae"/>
<rect x="681.5" y="751" width="4.1" height="218.5" fill="#70d0b0"/>
<rect x="684.8" y="751" width="4.1" height="218.5" fill="#70d0b0"/>
<rect x="688.3" y="751" width="3.7" height="218.5" fill="#80b8a0"/>
<rect x="691.3" y="751" width="3.3" height="218.5" fill="#80b8a0"/>
<rect x="693.9" y="751" width="3.5" height="218.5" fill="#a070b0"/>
<rect x="696.7" y="751" width="2.8" height="218.5" fill="#a070b0"/>
<rect x="698.8" y="751" width="2.6" height="218.5" fill="#a070b0"/>
<rect x="700.7" y="751" width="2.4" height="218.5" fill="#8da68d"/>
<rect x="702.4" y="751" width="3.9" height="218.5" fill="#80a080"/>
<rect x="705.7" y="751" width="17.7" height="218.5" fill="#000000"/>
<rect x="722.7" y="751" width="2.4" height="109.3" fill="#5985b6"/>
<rect x="722.7" y="860.3" width="2.4" height="109.2" fill="#5ea7c5"/>
<rect x="724.4" y="751" width="3.5" height="109.3" fill="#6090b0"/>
<rect x="724.4" y="860.3" width="3.5" height="109.2" fill="#50a0c0"/>
<rect x="727.2" y="751" width="3.9" height="109.3" fill="#82dc2f"/>
<rect x="727.2" y="860.3" width="3.9" height="109.2" fill="#3b7cd0"/>
<rect x="730.4" y="751" width="2.1" height="109.3" fill="#b0d040"/>
<rect x="730.4" y="860.3" width="2.1" height="109.2" fill="#50a8c0"/>
<rect x="731.7" y="751" width="2.1" height="109.3" fill="#a0a678"/>
<rect x="731.7" y="860.3" width="2.1" height="109.2" fill="#888ea0"/>
<rect x="733.1" y="751" width="2.7" height="218.5" fill="#8088a0"/>
<rect x="735.1" y="751" width="3" height="218.5" fill="#8d7a90"/>
<rect x="737.4" y="751" width="3" height="109.3" fill="#cb9880"/>
<rect x="737.4" y="860.3" width="3" height="109.2" fill="#be929a"/>
<rect x="739.6" y="751" width="3" height="109.3" fill="#9ea589"/>
<rect x="739.6" y="860.3" width="3" height="109.2" fill="#c597a0"/>
<rect x="741.9" y="751" width="2.1" height="218.5" fill="#6040c0"/>
<rect x="743.4" y="751" width="3.9" height="218.5" fill="#45768a"/>
<rect x="746.5" y="751" width="1.7" height="218.5" fill="#735ac0"/>
<rect x="747.6" y="751" width="2.1" height="109.3" fill="#8890a0"/>
<rect x="747.6" y="860.3" width="2.1" height="109.2" fill="#5080c0"/>
<rect x="749" y="751" width="2.7" height="109.3" fill="#8890a0"/>
<rect x="749" y="860.3" width="2.7" height="109.2" fill="#5080c0"/>
<rect x="751" y="751" width="3.1" height="218.5" fill="#5080c0"/>
<rect x="753.3" y="751" width="3" height="218.5" fill="#5f8bc6"/>
<rect x="755.6" y="751" width="4" height="218.5" fill="#5080c0"/>
<rect x="758.9" y="751" width="3.5" height="109.3" fill="#b25555"/>
<rect x="758.9" y="860.3" width="3.5" height="109.2" fill="#b24e5c"/>
<rect x="761.7" y="751" width="2.2" height="109.3" fill="#b04848"/>
<rect x="761.7" y="860.3" width="2.2" height="109.2" fill="#b04050"/>
<rect x="763.2" y="751" width="2.2" height="109.3" fill="#af7043"/>
<rect x="763.2" y="860.3" width="2.2" height="109.2" fill="#c15c6b"/>
<rect x="764.7" y="751" width="3.1" height="109.3" fill="#b04848"/>
<rect x="764.7" y="860.3" width="3.1" height="109.2" fill="#b04050"/>
<rect x="767.1" y="751" width="2.9" height="109.3" fill="#aa504f"/>
<rect x="767.1" y="860.3" width="2.9" height="109.2" fill="#aa4857"/>
<rect x="769.3" y="751" width="3.5" height="109.3" fill="#b04848"/>
<rect x="769.3" y="860.3" width="3.5" height="109.2" fill="#b04050"/>
<rect x="772.1" y="751" width="3.4" height="109.3" fill="#b04848"/>
<rect x="772.1" y="860.3" width="3.4" height="109.2" fill="#b04050"/>
<rect x="774.7" y="751" width="2.7" height="218.5" fill="#7f87ab"/>
<rect x="776.7" y="751" width="3" height="109.3" fill="#937fb1"/>
<rect x="776.7" y="860.3" width="3" height="109.2" fill="#a7787f"/>
<rect x="779" y="751" width="2.1" height="218.5" fill="#9098a0"/>
<rect x="780.4" y="751" width="2.9" height="218.5" fill="#c03030"/>
<rect x="782.6" y="751" width="3" height="218.5" fill="#c03030"/>
<rect x="784.9" y="751" width="4.1" height="109.3" fill="#b2a57e"/>
<rect x="784.9" y="860.3" width="4.1" height="109.2" fill="#8291a8"/>
<rect x="788.3" y="751" width="3" height="109.3" fill="#b0a070"/>
<rect x="788.3" y="860.3" width="3" height="109.2" fill="#9080a0"/>
<rect x="790.6" y="751" width="2.1" height="109.3" fill="#2828e8"/>
<rect x="790.6" y="860.3" width="2.1" height="109.2" fill="#4040f0"/>
<rect x="792" y="751" width="3.1" height="109.3" fill="#2828e8"/>
<rect x="792" y="860.3" width="3.1" height="109.2" fill="#4040f0"/>
<rect x="794.5" y="751" width="3.6" height="109.3" fill="#2828e8"/>
<rect x="794.5" y="860.3" width="3.6" height="109.2" fill="#4040f0"/>
<rect x="797.4" y="751" width="2.2" height="109.3" fill="#6090a0"/>
<rect x="797.4" y="860.3" width="2.2" height="109.2" fill="#508090"/>
<rect x="798.9" y="751" width="3.7" height="109.3" fill="#6090a0"/>
<rect x="798.9" y="860.3" width="3.7" height="109.2" fill="#508090"/>
<rect x="801.9" y="751" width="3.1" height="109.3" fill="#a5a55b"/>
<rect x="801.9" y="860.3" width="3.1" height="109.2" fill="#598188"/>
<rect x="804.3" y="751" width="4" height="109.3" fill="#b77949"/>
<rect x="804.3" y="860.3" width="4" height="109.2" fill="#7a959e"/>
<rect x="807.6" y="751" width="2.6" height="218.5" fill="#906870"/>
<rect x="809.5" y="751" width="2.6" height="218.5" fill="#906870"/>
<rect x="811.4" y="751" width="2.6" height="218.5" fill="#906870"/>
<rect x="813.3" y="751" width="3.9" height="109.3" fill="#e0e820"/>
<rect x="813.3" y="860.3" width="3.9" height="109.2" fill="#40d8b0"/>
<rect x="816.4" y="751" width="2" height="109.3" fill="#c2e641"/>
<rect x="816.4" y="860.3" width="2" height="109.2" fill="#53b797"/>
<rect x="817.7" y="751" width="3" height="109.3" fill="#e0e820"/>
<rect x="817.7" y="860.3" width="3" height="109.2" fill="#40d8b0"/>
<rect x="820" y="751" width="2.9" height="109.3" fill="#d6dd34"/>
<rect x="820" y="860.3" width="2.9" height="109.2" fill="#40d9b5"/>
<rect x="822.2" y="751" width="3.1" height="109.3" fill="#e0e820"/>
<rect x="822.2" y="860.3" width="3.1" height="109.2" fill="#40d8b0"/>
<rect x="824.6" y="751" width="2.1" height="109.3" fill="#c1b44c"/>
<rect x="824.6" y="860.3" width="2.1" height="109.2" fill="#33a1d9"/>
<rect x="826" y="751" width="2.9" height="109.3" fill="#dace43"/>
<rect x="826" y="860.3" width="2.9" height="109.2" fill="#759196"/>
<rect x="828.2" y="751" width="3.3" height="109.3" fill="#f0e020"/>
<rect x="828.2" y="860.3" width="3.3" height="109.2" fill="#40c8d0"/>
<rect x="830.8" y="751" width="3.5" height="109.3" fill="#d8e31d"/>
<rect x="830.8" y="860.3" width="3.5" height="109.2" fill="#53b4bb"/>
<rect x="833.6" y="751" width="3.4" height="109.3" fill="#8c7183"/>
<rect x="833.6" y="860.3" width="3.4" height="109.2" fill="#8859a0"/>
<rect x="836.4" y="751" width="2.5" height="218.5" fill="#8040a0"/>
<rect x="838.2" y="751" width="2.7" height="109.3" fill="#b03060"/>
<rect x="838.2" y="860.3" width="2.7" height="109.2" fill="#a83058"/>
<rect x="840.1" y="751" width="3.9" height="109.3" fill="#b03060"/>
<rect x="840.1" y="860.3" width="3.9" height="109.2" fill="#a83058"/>
<rect x="843.4" y="751" width="2.3" height="109.3" fill="#b03060"/>
<rect x="843.4" y="860.3" width="2.3" height="109.2" fill="#a83058"/>
<rect x="845" y="751" width="6.4" height="109.3" fill="#b03030"/>
<rect x="845" y="860.3" width="6.4" height="109.2" fill="#a03040"/>
<rect x="850.6" y="751" width="3" height="218.5" fill="#7fa1a1"/>
<rect x="852.9" y="751" width="3" height="218.5" fill="#77a9a7"/>
<rect x="855.2" y="751" width="3.8" height="218.5" fill="#8577a0"/>
<rect x="858.2" y="751" width="2.2" height="218.5" fill="#8070a0"/>
<rect x="859.7" y="751" width="2.9" height="109.3" fill="#90f040"/>
<rect x="859.7" y="860.3" width="2.9" height="109.2" fill="#40e0c0"/>
<rect x="861.8" y="751" width="2" height="109.3" fill="#ace463"/>
<rect x="861.8" y="860.3" width="2" height="109.2" fill="#40e0c4"/>
<rect x="863.1" y="751" width="2.7" height="109.3" fill="#96b63a"/>
<rect x="863.1" y="860.3" width="2.7" height="109.2" fill="#2de988"/>
<rect x="865.1" y="751" width="4.3" height="109.3" fill="#93d53d"/>
<rect x="865.1" y="860.3" width="4.3" height="109.2" fill="#37c1c9"/>
<rect x="868.7" y="751" width="2.4" height="109.3" fill="#9bcc57"/>
<rect x="868.7" y="860.3" width="2.4" height="109.2" fill="#4cd8bc"/>
<rect x="870.4" y="751" width="2.2" height="109.3" fill="#b0e840"/>
<rect x="870.4" y="860.3" width="2.2" height="109.2" fill="#40e0c0"/>
<rect x="871.9" y="751" width="3.2" height="109.3" fill="#c4ad30"/>
<rect x="871.9" y="860.3" width="3.2" height="109.2" fill="#60d7bf"/>
<rect x="874.4" y="751" width="38.1" height="218.5" fill="#00f400"/>
<rect x="911.8" y="751" width="2.6" height="109.3" fill="#888761"/>
<rect x="911.8" y="860.3" width="2.6" height="109.2" fill="#8f9a96"/>
<rect x="913.7" y="751" width="2" height="109.3" fill="#80a070"/>
<rect x="913.7" y="860.3" width="2" height="109.2" fill="#709088"/>
<rect x="915" y="751" width="4.3" height="109.3" fill="#80a070"/>
<rect x="915" y="860.3" width="4.3" height="109.2" fill="#709088"/>
<rect x="918.6" y="751" width="2.4" height="218.5" fill="#808f97"/>
<rect x="920.3" y="751" width="2.2" height="218.5" fill="#8888a0"/>
<rect x="921.8" y="751" width="2" height="218.5" fill="#8888a0"/>
<rect x="923.1" y="751" width="2.5" height="109.3" fill="#80808c"/>
<rect x="923.1" y="860.3" width="2.5" height="109.2" fill="#788890"/>
<rect x="924.9" y="751" width="4" height="109.3" fill="#80808c"/>
<rect x="924.9" y="860.3" width="4" height="109.2" fill="#788890"/>
<rect x="928.2" y="751" width="2.4" height="109.3" fill="#80808c"/>
<rect x="928.2" y="860.3" width="2.4" height="109.2" fill="#788890"/>
<rect x="929.9" y="751" width="3.1" height="109.3" fill="#73b881"/>
<rect x="929.9" y="860.3" width="3.1" height="109.2" fill="#7e9081"/>
<rect x="932.3" y="751" width="2.1" height="109.3" fill="#80b090"/>
<rect x="932.3" y="860.3" width="2.1" height="109.2" fill="#70a090"/>
<rect x="933.7" y="751" width="2.5" height="109.3" fill="#80b090"/>
<rect x="933.7" y="860.3" width="2.5" height="109.2" fill="#70a090"/>
<rect x="935.6" y="751" width="1.9" height="109.3" fill="#ab8c64"/>
<rect x="935.6" y="860.3" width="1.9" height="109.2" fill="#7e92b1"/>
<rect x="936.8" y="751" width="2" height="109.3" fill="#8da64d"/>
<rect x="936.8" y="860.3" width="2" height="109.2" fill="#877c96"/>
<rect x="938" y="751" width="3.9" height="109.3" fill="#b09060"/>
<rect x="938" y="860.3" width="3.9" height="109.2" fill="#8090b0"/>
<rect x="941.2" y="751" width="3" height="109.3" fill="#b09060"/>
<rect x="941.2" y="860.3" width="3" height="109.2" fill="#8090b0"/>
<rect x="943.5" y="751" width="2.7" height="218.5" fill="#6080a0"/>
<rect x="945.5" y="751" width="2.1" height="218.5" fill="#6080a0"/>
<rect x="946.9" y="751" width="3.3" height="109.3" fill="#4567a4"/>
<rect x="946.9" y="860.3" width="3.3" height="109.2" fill="#8d9ea1"/>
<rect x="949.5" y="751" width="2.2" height="109.3" fill="#699586"/>
<rect x="949.5" y="860.3" width="2.2" height="109.2" fill="#709596"/>
<rect x="950.9" y="751" width="2.3" height="109.3" fill="#609080"/>
<rect x="950.9" y="860.3" width="2.3" height="109.2" fill="#609090"/>
<rect x="952.5" y="751" width="4.1" height="109.3" fill="#609080"/>
<rect x="952.5" y="860.3" width="4.1" height="109.2" fill="#609090"/>
<rect x="955.9" y="751" width="3.1" height="109.3" fill="#70b0d0"/>
<rect x="955.9" y="860.3" width="3.1" height="109.2" fill="#70c0d8"/>
<rect x="958.4" y="751" width="2.8" height="109.3" fill="#7ab5d3"/>
<rect x="958.4" y="860.3" width="2.8" height="109.2" fill="#75c0d6"/>
<rect x="960.5" y="751" width="2.7" height="109.3" fill="#f0e820"/>
<rect x="960.5" y="860.3" width="2.7" height="109.2" fill="#70c0d8"/>
<rect x="962.4" y="751" width="3" height="109.3" fill="#f0e820"/>
<rect x="962.4" y="860.3" width="3" height="109.2" fill="#70c0d8"/>
<rect x="964.8" y="751" width="4.4" height="109.3" fill="#f0e820"/>
<rect x="964.8" y="860.3" width="4.4" height="109.2" fill="#70c0d8"/>
<rect x="968.4" y="751" width="4" height="109.3" fill="#45b7be"/>
<rect x="968.4" y="860.3" width="4" height="109.2" fill="#46b8c7"/>
<rect x="971.7" y="751" width="2.1" height="109.3" fill="#40b8c0"/>
<rect x="971.7" y="860.3" width="2.1" height="109.2" fill="#40b8c8"/>
<rect x="973.1" y="751" width="3.4" height="109.3" fill="#57b9c0"/>
<rect x="973.1" y="860.3" width="3.4" height="109.2" fill="#51b4c1"/>
<rect x="975.7" y="751" width="3.8" height="109.3" fill="#40b8c0"/>
<rect x="975.7" y="860.3" width="3.8" height="109.2" fill="#40b8c8"/>
<rect x="978.9" y="751" width="2.7" height="109.3" fill="#40b8c0"/>
<rect x="978.9" y="860.3" width="2.7" height="109.2" fill="#40b8c8"/>
<rect x="980.9" y="751" width="3.5" height="218.5" fill="#5c9290"/>
<rect x="983.7" y="751" width="2.8" height="218.5" fill="#608888"/>
<rect x="985.8" y="751" width="2.1" height="218.5" fill="#608888"/>
<rect x="987.2" y="751" width="2.1" height="218.5" fill="#6d7676"/>
<rect x="988.6" y="751" width="3.1" height="218.5" fill="#608888"/>
<rect x="991.1" y="751" width="2.2" height="218.5" fill="#905050"/>
<rect x="992.6" y="751" width="2.1" height="109.3" fill="#914d5a"/>
<rect x="992.6" y="860.3" width="2.1" height="109.2" fill="#8b5958"/>
<rect x="994" y="751" width="3.4" height="218.5" fill="#905050"/>
<rect x="996.7" y="751" width="3.2" height="218.5" fill="#1010e8"/>
<rect x="999.2" y="751" width="3.1" height="218.5" fill="#131be7"/>
<rect x="1001.6" y="751" width="2.6" height="218.5" fill="#1011e8"/>
<rect x="1003.5" y="751" width="4" height="109.3" fill="#84aaba"/>
<rect x="1003.5" y="860.3" width="4" height="109.2" fill="#729494"/>
<rect x="1006.8" y="751" width="2" height="109.3" fill="#80b0c0"/>
<rect x="1006.8" y="860.3" width="2" height="109.2" fill="#709898"/>
<rect x="1008" y="751" width="2.1" height="218.5" fill="#708088"/>
<rect x="1009.5" y="751" width="3.4" height="218.5" fill="#708088"/>
<rect x="1012.2" y="751" width="3.4" height="218.5" fill="#708088"/>
<rect x="1014.8" y="751" width="3.6" height="109.3" fill="#bb7b67"/>
<rect x="1014.8" y="860.3" width="3.6" height="109.2" fill="#bb7b73"/>
<rect x="1017.7" y="751" width="2.3" height="109.3" fill="#a06040"/>
<rect x="1017.7" y="860.3" width="2.3" height="109.2" fill="#a06050"/>
<rect x="1019.4" y="751" width="2.9" height="109.3" fill="#70e090"/>
<rect x="1019.4" y="860.3" width="2.9" height="109.2" fill="#40e0d0"/>
<rect x="1021.6" y="751" width="2.1" height="109.3" fill="#69e099"/>
<rect x="1021.6" y="860.3" width="2.1" height="109.2" fill="#40e0d0"/>
<rect x="1023" y="751" width="3.4" height="109.3" fill="#65e09f"/>
<rect x="1023" y="860.3" width="3.4" height="109.2" fill="#6de7db"/>
<rect x="1025.7" y="751" width="3" height="109.3" fill="#7cd094"/>
<rect x="1025.7" y="860.3" width="3" height="109.2" fill="#70a89c"/>
<rect x="1028" y="751" width="2.3" height="109.3" fill="#68e285"/>
<rect x="1028" y="860.3" width="2.3" height="109.2" fill="#3bcfd4"/>
<rect x="1029.6" y="751" width="3.5" height="109.3" fill="#6ae2ae"/>
<rect x="1029.6" y="860.3" width="3.5" height="109.2" fill="#4de2d3"/>
<rect x="1032.4" y="751" width="2.9" height="109.3" fill="#60e0a8"/>
<rect x="1032.4" y="860.3" width="2.9" height="109.2" fill="#40e0d0"/>
<rect x="1034.6" y="751" width="3.8" height="109.3" fill="#64e2a1"/>
<rect x="1034.6" y="860.3" width="3.8" height="109.2" fill="#4bded0"/>
<rect x="1037.7" y="751" width="2.7" height="109.3" fill="#60e0a8"/>
<rect x="1037.7" y="860.3" width="2.7" height="109.2" fill="#40e0d0"/>
<rect x="1039.8" y="751" width="2.8" height="218.5" fill="#807098"/>
<rect x="1041.8" y="751" width="4.3" height="218.5" fill="#5c51b5"/>
<rect x="1045.4" y="751" width="2" height="109.3" fill="#a0d06a"/>
<rect x="1045.4" y="860.3" width="2" height="109.2" fill="#6eb9cd"/>
<rect x="1046.7" y="751" width="2" height="109.3" fill="#a0d860"/>
<rect x="1046.7" y="860.3" width="2" height="109.2" fill="#60b8d0"/>
<rect x="1048" y="751" width="2.5" height="109.3" fill="#aadc70"/>
<rect x="1048" y="860.3" width="2.5" height="109.2" fill="#67a9bf"/>
<rect x="1049.8" y="751" width="4.3" height="109.3" fill="#a3d95d"/>
<rect x="1049.8" y="860.3" width="4.3" height="109.2" fill="#65b8d0"/>
<rect x="1053.3" y="751" width="2.9" height="109.3" fill="#f2f241"/>
<rect x="1053.3" y="860.3" width="2.9" height="109.2" fill="#37e5b2"/>
<rect x="1055.5" y="751" width="4" height="109.3" fill="#f0f020"/>
<rect x="1055.5" y="860.3" width="4" height="109.2" fill="#40e0d0"/>
<rect x="1058.9" y="751" width="3.8" height="109.3" fill="#f1f11e"/>
<rect x="1058.9" y="860.3" width="3.8" height="109.2" fill="#46decf"/>
<rect x="1062" y="751" width="2.9" height="109.3" fill="#f0f020"/>
<rect x="1062" y="860.3" width="2.9" height="109.2" fill="#40e0d0"/>
<rect x="1064.2" y="751" width="2.4" height="109.3" fill="#f0f020"/>
<rect x="1064.2" y="860.3" width="2.4" height="109.2" fill="#40e0d0"/>
<rect x="1065.9" y="751" width="2.5" height="109.3" fill="#d5f21c"/>
<rect x="1065.9" y="860.3" width="2.5" height="109.2" fill="#39e3b9"/>
<rect x="1067.8" y="751" width="3.3" height="109.3" fill="#f0f020"/>
<rect x="1067.8" y="860.3" width="3.3" height="109.2" fill="#40e0d0"/>
<rect x="1070.3" y="751" width="3" height="218.5" fill="#3434b2"/>
<rect x="1072.7" y="751" width="1.9" height="218.5" fill="#4040a0"/>
<rect x="1073.9" y="751" width="1.9" height="218.5" fill="#4040a0"/>
<rect x="1075.1" y="751" width="2.7" height="218.5" fill="#2d7772"/>
<rect x="1077.1" y="751" width="2" height="109.3" fill="#819f50"/>
<rect x="1077.1" y="860.3" width="2" height="109.2" fill="#818770"/>
<rect x="1078.4" y="751" width="3.7" height="109.3" fill="#80a050"/>
<rect x="1078.4" y="860.3" width="3.7" height="109.2" fill="#808870"/>
<rect x="1081.4" y="751" width="2" height="109.3" fill="#80a050"/>
<rect x="1081.4" y="860.3" width="2" height="109.2" fill="#808870"/>
<rect x="1082.8" y="751" width="2.5" height="218.5" fill="#809080"/>
<rect x="1084.6" y="751" width="3.5" height="218.5" fill="#809080"/>
<rect x="1087.3" y="751" width="2.6" height="218.5" fill="#3232b0"/>
<rect x="1089.3" y="751" width="3.3" height="218.5" fill="#3030b0"/>
<rect x="1091.8" y="751" width="2.4" height="109.3" fill="#ce7c31"/>
<rect x="1091.8" y="860.3" width="2.4" height="109.2" fill="#719c9f"/>
<rect x="1093.6" y="751" width="3.6" height="109.3" fill="#bfa044"/>
<rect x="1093.6" y="860.3" width="3.6" height="109.2" fill="#7b8394"/>
<rect x="1096.4" y="751" width="2" height="109.3" fill="#c0a040"/>
<rect x="1096.4" y="860.3" width="2" height="109.2" fill="#808890"/>
<rect x="1097.7" y="751" width="3" height="109.3" fill="#c0a040"/>
<rect x="1097.7" y="860.3" width="3" height="109.2" fill="#808890"/>
<rect x="1100" y="751" width="2.9" height="109.3" fill="#e0d820"/>
<rect x="1100" y="860.3" width="2.9" height="109.2" fill="#40a0e0"/>
<rect x="1102.2" y="751" width="3" height="109.3" fill="#e0d820"/>
<rect x="1102.2" y="860.3" width="3" height="109.2" fill="#40a0e0"/>
<rect x="1104.5" y="751" width="4.1" height="218.5" fill="#7088a8"/>
<rect x="1107.9" y="751" width="2.7" height="109.3" fill="#a05030"/>
<rect x="1107.9" y="860.3" width="2.7" height="109.2" fill="#a05040"/>
<rect x="1109.9" y="751" width="2.5" height="109.3" fill="#a04e38"/>
<rect x="1109.9" y="860.3" width="2.5" height="109.2" fill="#9c5646"/>
<rect x="1111.8" y="751" width="2.5" height="109.3" fill="#ad6829"/>
<rect x="1111.8" y="860.3" width="2.5" height="109.2" fill="#a45f51"/>
<rect x="1113.6" y="751" width="2.5" height="218.5" fill="#60a0c0"/>
<rect x="1115.4" y="751" width="2.3" height="218.5" fill="#62a0c0"/>
<rect x="1117" y="751" width="3.7" height="109.3" fill="#409870"/>
<rect x="1117" y="860.3" width="3.7" height="109.2" fill="#409880"/>
<rect x="1120" y="751" width="3.2" height="109.3" fill="#518386"/>
<rect x="1120" y="860.3" width="3.2" height="109.2" fill="#40a48e"/>
<rect x="1122.6" y="751" width="3.1" height="109.3" fill="#69ae58"/>
<rect x="1122.6" y="860.3" width="3.1" height="109.2" fill="#40a791"/>
<rect x="1124.9" y="751" width="2.9" height="218.5" fill="#4261c0"/>
<rect x="1127.1" y="751" width="1.9" height="218.5" fill="#4060c0"/>
<rect x="1128.3" y="751" width="2.3" height="218.5" fill="#3c7b84"/>
<rect x="1129.9" y="751" width="2.5" height="218.5" fill="#5050b0"/>
<rect x="1131.7" y="751" width="4" height="109.3" fill="#73abb8"/>
<rect x="1131.7" y="860.3" width="4" height="109.2" fill="#4ba7d8"/>
<rect x="1135" y="751" width="2" height="109.3" fill="#57b3d0"/>
<rect x="1135" y="860.3" width="2" height="109.2" fill="#65aed6"/>
<rect x="1136.2" y="751" width="2.4" height="109.3" fill="#a04f44"/>
<rect x="1136.2" y="860.3" width="2.4" height="109.2" fill="#9e5343"/>
<rect x="1137.9" y="751" width="2.4" height="218.5" fill="#a05040"/>
<rect x="1139.6" y="751" width="3.3" height="109.3" fill="#80e090"/>
<rect x="1139.6" y="860.3" width="3.3" height="109.2" fill="#40b0d8"/>
<rect x="1142.2" y="751" width="2.6" height="109.3" fill="#6ee0a2"/>
<rect x="1142.2" y="860.3" width="2.6" height="109.2" fill="#77b5d4"/>
<rect x="1144.2" y="751" width="2.5" height="218.5" fill="#3050c0"/>
<rect x="1146" y="751" width="2.3" height="218.5" fill="#3050c0"/>
<rect x="1147.6" y="751" width="2" height="109.3" fill="#722e6b"/>
<rect x="1147.6" y="860.3" width="2" height="109.2" fill="#722e77"/>
<rect x="1148.9" y="751" width="3.9" height="109.3" fill="#a9665a"/>
<rect x="1148.9" y="860.3" width="3.9" height="109.2" fill="#bc6669"/>
<rect x="1152.1" y="751" width="1.9" height="109.3" fill="#a04232"/>
<rect x="1152.1" y="860.3" width="1.9" height="109.2" fill="#9d3f43"/>
<rect x="1153.2" y="751" width="2.6" height="109.3" fill="#50b8a0"/>
<rect x="1153.2" y="860.3" width="2.6" height="109.2" fill="#50b0b0"/>
<rect x="1155.1" y="751" width="2.2" height="109.3" fill="#439baf"/>
<rect x="1155.1" y="860.3" width="2.2" height="109.2" fill="#4db8b5"/>
<rect x="1156.6" y="751" width="2.4" height="109.3" fill="#50b8a0"/>
<rect x="1156.6" y="860.3" width="2.4" height="109.2" fill="#50b0b0"/>
<rect x="1158.3" y="751" width="2.5" height="109.3" fill="#50b8a0"/>
<rect x="1158.3" y="860.3" width="2.5" height="109.2" fill="#4fafb1"/>
<rect x="1160" y="751" width="2.2" height="109.3" fill="#3e56bd"/>
<rect x="1160" y="860.3" width="2.2" height="109.2" fill="#3252d0"/>
<rect x="1161.5" y="751" width="3.8" height="218.5" fill="#2b39d5"/>
<rect x="1164.6" y="751" width="2.4" height="218.5" fill="#8da9cf"/>
<rect x="1166.3" y="751" width="2.4" height="218.5" fill="#5fa1cf"/>
<rect x="1168" y="751" width="3.5" height="218.5" fill="#a04040"/>
<rect x="1170.8" y="751" width="3.5" height="218.5" fill="#a04040"/>
<rect x="1173.6" y="751" width="3.1" height="218.5" fill="#6c8da1"/>
<rect x="1176" y="751" width="3.6" height="218.5" fill="#77bcce"/>
<rect x="1178.9" y="751" width="2.6" height="218.5" fill="#50a8c0"/>
<rect x="1180.7" y="751" width="4.9" height="218.5" fill="#3c7ed0"/>
<rect x="1184.9" y="751" width="3.2" height="109.3" fill="#68b7b2"/>
<rect x="1184.9" y="860.3" width="3.2" height="109.2" fill="#4dc6c3"/>
<rect x="1187.5" y="751" width="2.7" height="109.3" fill="#85d89a"/>
<rect x="1187.5" y="860.3" width="2.7" height="109.2" fill="#56c2c2"/>
<rect x="1189.5" y="751" width="3.4" height="109.3" fill="#e0d040"/>
<rect x="1189.5" y="860.3" width="3.4" height="109.2" fill="#40a8e8"/>
<rect x="1192.2" y="751" width="3.6" height="109.3" fill="#e5cd57"/>
<rect x="1192.2" y="860.3" width="3.6" height="109.2" fill="#5f8dc2"/>
<rect x="1195.1" y="751" width="1.9" height="109.3" fill="#e0d040"/>
<rect x="1195.1" y="860.3" width="1.9" height="109.2" fill="#40a8e8"/>
<rect x="1196.3" y="751" width="2.6" height="218.5" fill="#2030d0"/>
<rect x="1198.2" y="751" width="2.2" height="109.3" fill="#2f46bf"/>
<rect x="1198.2" y="860.3" width="2.2" height="109.2" fill="#382bba"/>
<rect x="1199.7" y="751" width="3.8" height="109.3" fill="#709890"/>
<rect x="1199.7" y="860.3" width="3.8" height="109.2" fill="#60a0a0"/>
<rect x="1202.8" y="751" width="2.5" height="109.3" fill="#709890"/>
<rect x="1202.8" y="860.3" width="2.5" height="109.2" fill="#60a0a0"/>
<rect x="1204.6" y="751" width="2.5" height="109.3" fill="#85a7a1"/>
<rect x="1204.6" y="860.3" width="2.5" height="109.2" fill="#788888"/>
<rect x="1206.4" y="751" width="1.9" height="109.3" fill="#83a57d"/>
<rect x="1206.4" y="860.3" width="1.9" height="109.2" fill="#6ca4a4"/>
<rect x="1207.6" y="751" width="2.2" height="109.3" fill="#31a5c3"/>
<rect x="1207.6" y="860.3" width="2.2" height="109.2" fill="#6ddbcf"/>
<rect x="1209.1" y="751" width="3.1" height="109.3" fill="#40d9b6"/>
<rect x="1209.1" y="860.3" width="3.1" height="109.2" fill="#63cdc2"/>
<rect x="1211.4" y="751" width="2.5" height="109.3" fill="#40d8b0"/>
<rect x="1211.4" y="860.3" width="2.5" height="109.2" fill="#40d0c0"/>
<rect x="1213.3" y="751" width="3.6" height="109.3" fill="#ac5f53"/>
<rect x="1213.3" y="860.3" width="3.6" height="109.2" fill="#896a70"/>
<rect x="1216.2" y="751" width="2.3" height="109.3" fill="#917a78"/>
<rect x="1216.2" y="860.3" width="2.3" height="109.2" fill="#84848b"/>
<rect x="1217.8" y="751" width="3.8" height="109.3" fill="#72e2d0"/>
<rect x="1217.8" y="860.3" width="3.8" height="109.2" fill="#40dad0"/>
<rect x="1220.9" y="751" width="2.7" height="109.3" fill="#5db7a3"/>
<rect x="1220.9" y="860.3" width="2.7" height="109.2" fill="#53d4cd"/>
<rect x="1222.9" y="751" width="2.7" height="109.3" fill="#40d8c0"/>
<rect x="1222.9" y="860.3" width="2.7" height="109.2" fill="#40d8d0"/>
<rect x="1224.9" y="751" width="3.8" height="109.3" fill="#40d8c0"/>
<rect x="1224.9" y="860.3" width="3.8" height="109.2" fill="#40d8d0"/>
<rect x="1228.1" y="751" width="1.7" height="109.3" fill="#4cdcb0"/>
<rect x="1228.1" y="860.3" width="1.7" height="109.2" fill="#4bd2cb"/>
<rect x="1229.1" y="751" width="2.2" height="109.3" fill="#a9523a"/>
<rect x="1229.1" y="860.3" width="2.2" height="109.2" fill="#a03e3e"/>
<rect x="1230.6" y="751" width="2.6" height="218.5" fill="#a04040"/>
<rect x="1232.5" y="751" width="3.9" height="218.5" fill="#704890"/>
<rect x="1235.7" y="751" width="3.1" height="218.5" fill="#704890"/>
<rect x="1238.2" y="751" width="3.7" height="109.3" fill="#40a0a0"/>
<rect x="1238.2" y="860.3" width="3.7" height="109.2" fill="#40a0a8"/>
<rect x="1241.2" y="751" width="2.9" height="109.3" fill="#40a0a0"/>
<rect x="1241.2" y="860.3" width="2.9" height="109.2" fill="#40a0a8"/>
<rect x="1243.4" y="751" width="2.2" height="109.3" fill="#40a0a0"/>
<rect x="1243.4" y="860.3" width="2.2" height="109.2" fill="#40a0a8"/>
<rect x="1244.8" y="751" width="3.1" height="109.3" fill="#40a0a0"/>
<rect x="1244.8" y="860.3" width="3.1" height="109.2" fill="#40a0a8"/>
<rect x="1247.2" y="751" width="3.9" height="109.3" fill="#3cccc4"/>
<rect x="1247.2" y="860.3" width="3.9" height="109.2" fill="#4bd3da"/>
<rect x="1250.4" y="751" width="2.1" height="109.3" fill="#6ea492"/>
<rect x="1250.4" y="860.3" width="2.1" height="109.2" fill="#57c5cb"/>
<rect x="1251.8" y="751" width="3" height="109.3" fill="#80f080"/>
<rect x="1251.8" y="860.3" width="3" height="109.2" fill="#40d0d8"/>
<rect x="1254" y="751" width="3" height="109.3" fill="#84ed84"/>
<rect x="1254" y="860.3" width="3" height="109.2" fill="#4ccfd7"/>
<rect x="1256.3" y="751" width="3.2" height="218.5" fill="#50a0b8"/>
<rect x="1258.8" y="751" width="2.6" height="218.5" fill="#72b2c6"/>
<rect x="1260.6" y="751" width="2" height="218.5" fill="#50a0b8"/>
<rect x="1262" y="751" width="1.8" height="218.5" fill="#3cb889"/>
<rect x="1263.1" y="751" width="3.9" height="109.3" fill="#50c0b0"/>
<rect x="1263.1" y="860.3" width="3.9" height="109.2" fill="#50c0c0"/>
<rect x="1266.3" y="751" width="2.1" height="109.3" fill="#50c0b0"/>
<rect x="1266.3" y="860.3" width="2.1" height="109.2" fill="#50c0c0"/>
<rect x="1267.7" y="751" width="3.3" height="109.3" fill="#50c0b0"/>
<rect x="1267.7" y="860.3" width="3.3" height="109.2" fill="#50c0c0"/>
<rect x="1270.3" y="751" width="2.5" height="109.3" fill="#4dc6b6"/>
<rect x="1270.3" y="860.3" width="2.5" height="109.2" fill="#60baba"/>
<rect x="1272.1" y="751" width="48.3" height="218.5" fill="#b03030"/>
<rect x="1319.7" y="751" width="3.3" height="109.3" fill="#7276c2"/>
<rect x="1319.7" y="860.3" width="3.3" height="109.2" fill="#73798a"/>
<rect x="1322.3" y="751" width="3.2" height="218.5" fill="#6b9bb2"/>
<rect x="1324.8" y="751" width="3.6" height="109.3" fill="#6988b9"/>
<rect x="1324.8" y="860.3" width="3.6" height="109.2" fill="#69899e"/>
<rect x="1327.6" y="751" width="2.3" height="109.3" fill="#3a8cba"/>
<rect x="1327.6" y="860.3" width="2.3" height="109.2" fill="#74cbd7"/>
<rect x="1329.3" y="751" width="3.1" height="109.3" fill="#50c0a0"/>
<rect x="1329.3" y="860.3" width="3.1" height="109.2" fill="#40b8c8"/>
<rect x="1331.6" y="751" width="2.7" height="109.3" fill="#50c0a0"/>
<rect x="1331.6" y="860.3" width="2.7" height="109.2" fill="#40b8c8"/>
<rect x="1333.6" y="751" width="3.9" height="109.3" fill="#50c0a0"/>
<rect x="1333.6" y="860.3" width="3.9" height="109.2" fill="#40b8c8"/>
<rect x="1336.8" y="751" width="4" height="109.3" fill="#53bd9d"/>
<rect x="1336.8" y="860.3" width="4" height="109.2" fill="#3fb9c4"/>
<rect x="1340.1" y="751" width="3.3" height="109.3" fill="#f0f020"/>
<rect x="1340.1" y="860.3" width="3.3" height="109.2" fill="#40e0d0"/>
<rect x="1342.7" y="751" width="3.8" height="109.3" fill="#f0ef25"/>
<rect x="1342.7" y="860.3" width="3.8" height="109.2" fill="#40e0d0"/>
<rect x="1345.8" y="751" width="3.9" height="109.3" fill="#f0f020"/>
<rect x="1345.8" y="860.3" width="3.9" height="109.2" fill="#40e0d0"/>
<rect x="1349" y="751" width="3.1" height="109.3" fill="#baf319"/>
<rect x="1349" y="860.3" width="3.1" height="109.2" fill="#5dd8cc"/>
<rect x="1351.4" y="751" width="2.4" height="109.3" fill="#c0e040"/>
<rect x="1351.4" y="860.3" width="2.4" height="109.2" fill="#40d8d8"/>
<rect x="1353.2" y="751" width="3.4" height="109.3" fill="#c0e040"/>
<rect x="1353.2" y="860.3" width="3.4" height="109.2" fill="#40d8d8"/>
<rect x="1355.9" y="751" width="3.1" height="109.3" fill="#c4e23c"/>
<rect x="1355.9" y="860.3" width="3.1" height="109.2" fill="#3cdbca"/>
<rect x="1358.2" y="751" width="2.7" height="218.5" fill="#6177de"/>
<rect x="1360.2" y="751" width="2.4" height="218.5" fill="#1e3dd2"/>
<rect x="1361.8" y="751" width="2.7" height="218.5" fill="#186e9d"/>
<rect x="1363.9" y="751" width="2.4" height="218.5" fill="#50b0d0"/>
<rect x="1365.6" y="751" width="3.1" height="218.5" fill="#50b0d0"/>
<rect x="1368" y="751" width="2.8" height="218.5" fill="#49b7bd"/>
<rect x="1370.1" y="751" width="2.4" height="218.5" fill="#50b0d0"/>
<rect x="1371.8" y="751" width="2.9" height="109.3" fill="#546cb3"/>
<rect x="1371.8" y="860.3" width="2.9" height="109.2" fill="#5974b1"/>
<rect x="1374" y="751" width="3" height="218.5" fill="#7b84b7"/>
<rect x="1376.3" y="751" width="3" height="218.5" fill="#a05040"/>
<rect x="1378.6" y="751" width="2.8" height="109.3" fill="#50e0a0"/>
<rect x="1378.6" y="860.3" width="2.8" height="109.2" fill="#40d8c8"/>
<rect x="1380.7" y="751" width="3.1" height="109.3" fill="#66e4ac"/>
<rect x="1380.7" y="860.3" width="3.1" height="109.2" fill="#38bdcf"/>
<rect x="1383.1" y="751" width="3.2" height="109.3" fill="#ecec28"/>
<rect x="1383.1" y="860.3" width="3.2" height="109.2" fill="#54d4cd"/>
<rect x="1385.6" y="751" width="3.9" height="109.3" fill="#a8ee23"/>
<rect x="1385.6" y="860.3" width="3.9" height="109.2" fill="#63d1cb"/>
<rect x="1388.8" y="751" width="2" height="109.3" fill="#7cb2a4"/>
<rect x="1388.8" y="860.3" width="2" height="109.2" fill="#67acc3"/>
<rect x="1390.1" y="751" width="3.4" height="218.5" fill="#70a0c0"/>
<rect x="1392.8" y="751" width="2.3" height="218.5" fill="#70a0c0"/>
<rect x="1394.5" y="751" width="3.4" height="218.5" fill="#8c4874"/>
<rect x="1397.1" y="751" width="2.5" height="218.5" fill="#6b6d6b"/>
<rect x="1399" y="751" width="3" height="218.5" fill="#5060c0"/>
<rect x="1401.2" y="751" width="2.4" height="218.5" fill="#5060c0"/>
<rect x="1403" y="751" width="2.4" height="109.3" fill="#535ec2"/>
<rect x="1403" y="860.3" width="2.4" height="109.2" fill="#4d5dc2"/>
<rect x="1404.6" y="751" width="7.5" height="218.5" fill="#0000f0"/>
<rect x="1411.4" y="751" width="5.2" height="218.5" fill="#0830d0"/>
<rect x="1416" y="751" width="8.6" height="218.5" fill="#0018e0"/>
<rect x="1423.9" y="751" width="12" height="218.5" fill="#0000f8"/>
<rect x="1435.2" y="751" width="7.5" height="218.5" fill="#0020d8"/>
<rect x="1442" y="751" width="12" height="218.5" fill="#0000f4"/>
<rect x="1453.3" y="751" width="7.5" height="218.5" fill="#0030c8"/>
<rect x="1460.1" y="751" width="12" height="218.5" fill="#0008e8"/>
<rect x="1471.5" y="751" width="16.6" height="218.5" fill="#0000f8"/>
<rect x="1487.3" y="751" width="20.2" height="218.5" fill="#00f400"/>
<rect x="1506.8" y="751" width="138.9" height="218.5" fill="#0000f5"/>
<rect x="1645" y="751" width="9.8" height="218.5" fill="#40e0d0"/>
<rect x="1654" y="751" width="3" height="218.5" fill="#a07070"/>
<rect x="1656.3" y="751" width="2.3" height="218.5" fill="#b04040"/>
<rect x="1657.9" y="751" width="4.8" height="218.5" fill="#a08080"/>
<rect x="1661.9" y="751" width="13.2" height="218.5" fill="#58d0c0"/>
<rect x="1674.4" y="751" width="12" height="218.5" fill="#40e0d0"/>
<rect x="1685.7" y="751" width="7.5" height="218.5" fill="#907070"/>
<rect x="1692.5" y="751" width="8.6" height="218.5" fill="#70c0b0"/>
<rect x="1700.5" y="751" width="4.1" height="218.5" fill="#40a0c0"/>
<rect x="1703.9" y="751" width="10.9" height="218.5" fill="#40e0d0"/>
<rect x="1714" y="751" width="3" height="218.5" fill="#40a8c8"/>
<rect x="1716.3" y="751" width="21.1" height="218.5" fill="#40e0d0"/>
<rect x="1736.7" y="751" width="48.3" height="109.3" fill="#ffff00"/>
<rect x="1736.7" y="860.3" width="48.3" height="109.2" fill="#40e0d0"/>
<rect x="1784.3" y="751" width="5.2" height="109.3" fill="#80c0b0"/>
<rect x="1784.3" y="860.3" width="5.2" height="109.2" fill="#50d8c8"/>
<rect x="1788.8" y="751" width="4.1" height="218.5" fill="#a06868"/>
<rect x="1792.2" y="751" width="9.8" height="218.5" fill="#808888"/>
<rect x="1801.2" y="751" width="9.8" height="218.5" fill="#40e0d0"/>
<rect x="1810.3" y="751" width="7.5" height="218.5" fill="#a06060"/>
<rect x="1817.1" y="751" width="5.2" height="218.5" fill="#a85050"/>
<rect x="1821.6" y="751" width="5.2" height="218.5" fill="#a07070"/>
<rect x="1826.2" y="751" width="14.3" height="218.5" fill="#b02828"/>
<rect x="1839.8" y="751" width="34.7" height="218.5" fill="#40e0d0"/>
<rect x="1873.7" y="751" width="4.1" height="218.5" fill="#a0a8a8"/>
<rect x="1877.1" y="751" width="2.9" height="218.5" fill="#d8b8a8"/>
<path d="M322.2 751H1880" stroke="#777" stroke-width="1.6" fill="none"/>
<path d="M322.2 751V969.5" stroke="#888" stroke-width="1.2" fill="none"/>
<path d="M322.2 860.3H1880" stroke="#0a0a14" stroke-width="2.6" fill="none"/>
<path d="M322.2 969.5H1880" stroke="#303038" stroke-width="2.4" fill="none"/>
<text x="299.5" y="813.6" font-size="33.7" text-anchor="end">Dynamic tree cut</text>
<text x="299.5" y="920" font-size="33.7" text-anchor="end">Merged dynamic</text>
</g>
<g id="panelB">
<text x="9.7" y="1105.8" font-size="49.5" text-anchor="start">B</text>
<text x="621.3" y="1128.3" font-size="33.7" text-anchor="middle">Module-trait relationship</text>
<rect x="210.3" y="1160.6" width="33.4" height="101.7" fill="#ff0000"/>
<rect x="255.4" y="1160.6" width="329.1" height="101.7" fill="#ffffff"/>
<rect x="584.2" y="1160.6" width="331.1" height="101.7" fill="#ffccbf"/>
<rect x="210.3" y="1261.9" width="33.4" height="101.7" fill="#a52a2a"/>
<rect x="255.4" y="1261.9" width="329.1" height="101.7" fill="#ffccbf"/>
<rect x="584.2" y="1261.9" width="331.1" height="101.7" fill="#ffc8ba"/>
<rect x="210.3" y="1363.2" width="33.4" height="101.7" fill="#40e0d0"/>
<rect x="255.4" y="1363.2" width="329.1" height="101.7" fill="#d3eaff"/>
<rect x="584.2" y="1363.2" width="331.1" height="101.7" fill="#ffb19e"/>
<rect x="210.3" y="1464.6" width="33.4" height="101.7" fill="#ffc0cb"/>
<rect x="255.4" y="1464.6" width="329.1" height="101.7" fill="#d1e9ff"/>
<rect x="584.2" y="1464.6" width="331.1" height="101.7" fill="#f2f8ff"/>
<rect x="210.3" y="1565.9" width="33.4" height="101.7" fill="#000000"/>
<rect x="255.4" y="1565.9" width="329.1" height="101.7" fill="#e4f2ff"/>
<rect x="584.2" y="1565.9" width="331.1" height="101.7" fill="#ffffff"/>
<rect x="210.3" y="1667.2" width="33.4" height="101.7" fill="#0000ff"/>
<rect x="255.4" y="1667.2" width="329.1" height="101.7" fill="#ffe4de"/>
<rect x="584.2" y="1667.2" width="331.1" height="101.7" fill="#cce7ff"/>
<rect x="210.3" y="1768.5" width="33.4" height="101.7" fill="#00ff00"/>
<rect x="255.4" y="1768.5" width="329.1" height="101.7" fill="#ebf6ff"/>
<rect x="584.2" y="1768.5" width="331.1" height="101.7" fill="#e2f1ff"/>
<rect x="210.3" y="1869.8" width="33.4" height="101.7" fill="#bebebe"/>
<rect x="255.4" y="1869.8" width="329.1" height="101.7" fill="#95ccff"/>
<rect x="584.2" y="1869.8" width="331.1" height="101.7" fill="#ffc8ba"/>
<rect x="255.4" y="1160.6" width="659.9" height="810.6" fill="none" stroke="#777" stroke-width="1.4"/>
<text x="198.6" y="1220.3" font-size="33.7" text-anchor="end">MEred</text>
<text x="419.8" y="1207.3" font-size="33.7" text-anchor="middle">–0.0011</text>
<text x="419.8" y="1246.3" font-size="33.7" text-anchor="middle">(1)</text>
<text x="750" y="1208.7" font-size="33.7" text-anchor="middle">0.25</text>
<text x="750" y="1247.7" font-size="33.7" text-anchor="middle">(0.03)</text>
<text x="198.6" y="1321.6" font-size="33.7" text-anchor="end">MEbrown</text>
<text x="418.4" y="1308.8" font-size="33.7" text-anchor="middle">0.25</text>
<text x="418.4" y="1347.3" font-size="33.7" text-anchor="middle">(0.03)</text>
<text x="755.7" y="1307.4" font-size="33.7" text-anchor="middle">0.27</text>
<text x="755.7" y="1346.3" font-size="33.7" text-anchor="middle">(0.01)</text>
<text x="198.6" y="1422.9" font-size="33.7" text-anchor="end">MEturquoise</text>
<text x="421.7" y="1410.7" font-size="33.7" text-anchor="middle">–0.18</text>
<text x="421.7" y="1450.6" font-size="33.7" text-anchor="middle">(0.1)</text>
<text x="748.6" y="1406" font-size="33.7" text-anchor="middle">0.38</text>
<text x="748.6" y="1446" font-size="33.7" text-anchor="middle">(5e-04)</text>
<text x="198.6" y="1524.2" font-size="33.7" text-anchor="end">MEpink</text>
<text x="416.5" y="1501.3" font-size="33.7" text-anchor="middle">–0.19</text>
<text x="416.5" y="1540.8" font-size="33.7" text-anchor="middle">(0.08)</text>
<text x="749.6" y="1503.2" font-size="33.7" text-anchor="middle">–0.074</text>
<text x="749.6" y="1543.2" font-size="33.7" text-anchor="middle">(0.5)</text>
<text x="198.6" y="1625.5" font-size="33.7" text-anchor="end">MEblack</text>
<text x="420.5" y="1606.7" font-size="33.7" text-anchor="middle">–0.11</text>
<text x="420.5" y="1647.3" font-size="33.7" text-anchor="middle">(0.3)</text>
<text x="750" y="1606.7" font-size="33.7" text-anchor="middle">0.025</text>
<text x="750" y="1647.3" font-size="33.7" text-anchor="middle">(0.8)</text>
<text x="198.6" y="1726.9" font-size="33.7" text-anchor="end">MEblue</text>
<text x="423" y="1708" font-size="33.7" text-anchor="middle">0.13</text>
<text x="423" y="1748.8" font-size="33.7" text-anchor="middle">(0.2)</text>
<text x="745.5" y="1709" font-size="33.7" text-anchor="middle">–0.21</text>
<text x="745.5" y="1749.5" font-size="33.7" text-anchor="middle">(0.06)</text>
<text x="198.6" y="1828.2" font-size="33.7" text-anchor="end">MEgreen</text>
<text x="415" y="1815.5" font-size="33.7" text-anchor="middle">–0.082</text>
<text x="415" y="1856" font-size="33.7" text-anchor="middle">(0.5)</text>
<text x="754.5" y="1811" font-size="33.7" text-anchor="middle">–0.12</text>
<text x="754.5" y="1851.5" font-size="33.7" text-anchor="middle">(0.3)</text>
<text x="198.6" y="1929.5" font-size="33.7" text-anchor="end">MEgrey</text>
<text x="418" y="1911" font-size="33.7" text-anchor="middle">–0.44</text>
<text x="418" y="1952" font-size="33.7" text-anchor="middle">(4e-05)</text>
<text x="751.5" y="1908" font-size="33.7" text-anchor="middle">0.27</text>
<text x="751.5" y="1949" font-size="33.7" text-anchor="middle">(0.02)</text>
<text x="429.3" y="2008.7" font-size="33.7" text-anchor="middle">bone.mineral.density</text>
<text x="754.8" y="2008.7" font-size="33.7" text-anchor="middle">menopausal.state</text>
<defs><linearGradient id="cb" x1="0" y1="0" x2="0" y2="1"><stop offset="0" stop-color="#ff3300"/><stop offset="0.5" stop-color="#ffffff"/><stop offset="1" stop-color="#0d8cff"/></linearGradient></defs>
<rect x="929" y="1208.6" width="15.3" height="713.5" fill="url(#cb)" stroke="#444" stroke-width="1.3"/>
<text x="964.5" y="1220.2" font-size="33.7" text-anchor="start">1</text>
<text x="964.5" y="1398.6" font-size="33.7" text-anchor="start">0.5</text>
<text x="964.5" y="1576.9" font-size="33.7" text-anchor="start">0</text>
<text x="964.5" y="1755.3" font-size="33.7" text-anchor="start">–0.5</text>
<text x="964.5" y="1933.7" font-size="33.7" text-anchor="start">–1</text>
<path d="M944.3 1208.6H955M944.3 1387H955M944.3 1565.3H955M944.3 1743.7H955M944.3 1922.1H955" stroke="#333" stroke-width="1.6" fill="none"/>
</g>
<g id="panelC">
<text x="1051" y="1106.3" font-size="49.5" text-anchor="start">C</text>
<text x="1557" y="1129.6" font-size="33.7" text-anchor="middle">Module significance p-value=7.5e-202</text>
<path d="M1194.2 1974.2V1164.2" stroke="#3a3a3a" stroke-width="2.1" fill="none"/>
<text x="1154.2" y="1975" font-size="33.7" text-anchor="middle" transform="rotate(-90 1154.2 1975)">0.00</text>
<text x="1154.2" y="1813" font-size="33.7" text-anchor="middle" transform="rotate(-90 1154.2 1813)">0.05</text>
<text x="1154.2" y="1651" font-size="33.7" text-anchor="middle" transform="rotate(-90 1154.2 1651)">0.10</text>
<text x="1154.2" y="1489" font-size="33.7" text-anchor="middle" transform="rotate(-90 1154.2 1489)">0.15</text>
<text x="1154.2" y="1327" font-size="33.7" text-anchor="middle" transform="rotate(-90 1154.2 1327)">0.20</text>
<text x="1154.2" y="1165" font-size="33.7" text-anchor="middle" transform="rotate(-90 1154.2 1165)">0.25</text>
<path d="M1178 1974.2H1194.2M1178 1812.2H1194.2M1178 1650.2H1194.2M1178 1488.2H1194.2M1178 1326.2H1194.2M1178 1164.2H1194.2" stroke="#3a3a3a" stroke-width="2.1" fill="none"/>
<text x="1096.7" y="1577" font-size="33.7" text-anchor="middle" transform="rotate(-90 1096.7 1577)">Gene significance</text>
<rect x="1220.4" y="1656.5" width="72.6" height="317.7" fill="#000000" stroke="#222" stroke-width="1.9"/>
<path d="M1256.7 1606.3V1656.5M1235.5 1606.3h42.4" stroke="#222" stroke-width="1.9" fill="none"/>
<text x="1263.8" y="1998" font-size="33.7" text-anchor="end" transform="rotate(-90 1263.8 1998)">Black</text>
<rect x="1307.1" y="1437.3" width="72.6" height="536.9" fill="#0000ff" stroke="#222" stroke-width="1.9"/>
<path d="M1343.4 1419V1456.6M1322.2 1419h42.4M1322.2 1456.6h42.4" stroke="#222" stroke-width="1.9" fill="none"/>
<text x="1349.7" y="1998" font-size="33.7" text-anchor="end" transform="rotate(-90 1349.7 1998)">Blue</text>
<rect x="1393.7" y="1468.2" width="72.6" height="506" fill="#a52a2a" stroke="#222" stroke-width="1.9"/>
<path d="M1430 1448.9V1487.5M1408.8 1448.9h42.4M1408.8 1487.5h42.4" stroke="#222" stroke-width="1.9" fill="none"/>
<text x="1431.6" y="1998" font-size="33.7" text-anchor="end" transform="rotate(-90 1431.6 1998)">Brown</text>
<rect x="1480.4" y="1569.8" width="72.6" height="404.4" fill="#00ff00" stroke="#222" stroke-width="1.9"/>
<path d="M1516.7 1543V1596.4M1495.5 1543h42.4M1495.5 1596.4h42.4" stroke="#222" stroke-width="1.9" fill="none"/>
<text x="1525" y="1998" font-size="33.7" text-anchor="end" transform="rotate(-90 1525 1998)">Green</text>
<rect x="1567.1" y="1613" width="72.6" height="361.2" fill="#bebebe" stroke="#222" stroke-width="1.9"/>
<path d="M1603.4 1594.2V1631.4M1582.2 1594.2h42.4M1582.2 1631.4h42.4" stroke="#222" stroke-width="1.9" fill="none"/>
<text x="1612.4" y="1998" font-size="33.7" text-anchor="end" transform="rotate(-90 1612.4 1998)">Grey</text>
<rect x="1653.8" y="1539.6" width="72.6" height="434.6" fill="#ffc0cb" stroke="#222" stroke-width="1.9"/>
<path d="M1690 1470V1609.4M1668.8 1470h42.4M1668.8 1609.4h42.4" stroke="#222" stroke-width="1.9" fill="none"/>
<text x="1698.3" y="1998" font-size="33.7" text-anchor="end" transform="rotate(-90 1698.3 1998)">Pink</text>
<rect x="1740.4" y="1405.5" width="72.6" height="568.7" fill="#ff0000" stroke="#222" stroke-width="1.9"/>
<path d="M1776.7 1344.2V1466.2M1755.5 1344.2h42.4M1755.5 1466.2h42.4" stroke="#222" stroke-width="1.9" fill="none"/>
<text x="1790.9" y="1998" font-size="33.7" text-anchor="end" transform="rotate(-90 1790.9 1998)">Red</text>
<rect x="1827.1" y="1219.8" width="72.6" height="754.4" fill="#40e0d0" stroke="#222" stroke-width="1.9"/>
<path d="M1863.4 1204.3V1235.7M1842.2 1204.3h42.4M1842.2 1235.7h42.4" stroke="#222" stroke-width="1.9" fill="none"/>
<text x="1872.4" y="1998" font-size="33.7" text-anchor="end" transform="rotate(-90 1872.4 1998)">Turquoise</text>
<text x="1566.5" y="2146" font-size="33.7" text-anchor="middle">Module</text>
</g>
</svg>
</body></html>
